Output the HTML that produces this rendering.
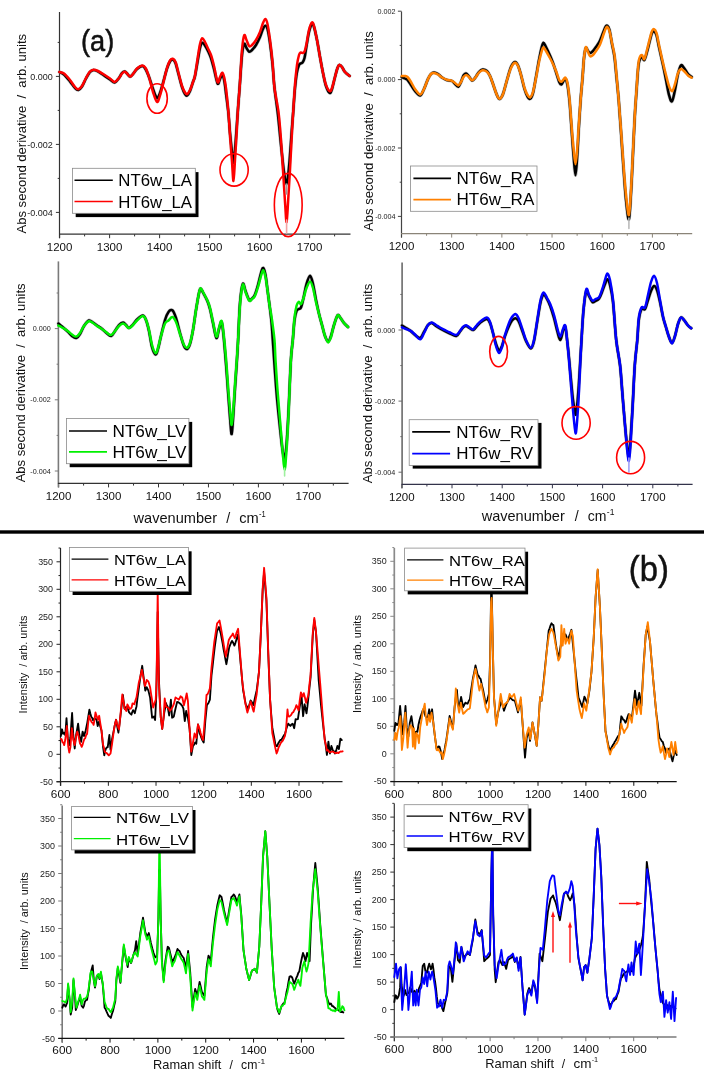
<!DOCTYPE html>
<html><head><meta charset="utf-8"><style>
html,body{margin:0;padding:0;background:#fff;width:709px;height:1074px;overflow:hidden;}
svg{display:block;font-family:"Liberation Sans", sans-serif;will-change:transform;}
</style></head><body>
<svg width="709" height="1074" viewBox="0 0 709 1074" font-family='"Liberation Sans", sans-serif'>
<rect width="709" height="1074" fill="#fff"/>
<line x1="59.6" y1="234.2" x2="59.6" y2="238.2" stroke="#333" stroke-width="1"/>
<text x="59.6" y="250.8" font-size="11.5" fill="#111" text-anchor="middle" textLength="25.58" lengthAdjust="spacingAndGlyphs">1200</text>
<line x1="84.6" y1="234.2" x2="84.6" y2="236.4" stroke="#333" stroke-width="1"/>
<line x1="109.6" y1="234.2" x2="109.6" y2="238.2" stroke="#333" stroke-width="1"/>
<text x="109.6" y="250.8" font-size="11.5" fill="#111" text-anchor="middle" textLength="25.58" lengthAdjust="spacingAndGlyphs">1300</text>
<line x1="134.6" y1="234.2" x2="134.6" y2="236.4" stroke="#333" stroke-width="1"/>
<line x1="159.6" y1="234.2" x2="159.6" y2="238.2" stroke="#333" stroke-width="1"/>
<text x="159.6" y="250.8" font-size="11.5" fill="#111" text-anchor="middle" textLength="25.58" lengthAdjust="spacingAndGlyphs">1400</text>
<line x1="184.6" y1="234.2" x2="184.6" y2="236.4" stroke="#333" stroke-width="1"/>
<line x1="209.6" y1="234.2" x2="209.6" y2="238.2" stroke="#333" stroke-width="1"/>
<text x="209.6" y="250.8" font-size="11.5" fill="#111" text-anchor="middle" textLength="25.58" lengthAdjust="spacingAndGlyphs">1500</text>
<line x1="234.6" y1="234.2" x2="234.6" y2="236.4" stroke="#333" stroke-width="1"/>
<line x1="259.6" y1="234.2" x2="259.6" y2="238.2" stroke="#333" stroke-width="1"/>
<text x="259.6" y="250.8" font-size="11.5" fill="#111" text-anchor="middle" textLength="25.58" lengthAdjust="spacingAndGlyphs">1600</text>
<line x1="284.6" y1="234.2" x2="284.6" y2="236.4" stroke="#333" stroke-width="1"/>
<line x1="309.6" y1="234.2" x2="309.6" y2="238.2" stroke="#333" stroke-width="1"/>
<text x="309.6" y="250.8" font-size="11.5" fill="#111" text-anchor="middle" textLength="25.58" lengthAdjust="spacingAndGlyphs">1700</text>
<line x1="334.6" y1="234.2" x2="334.6" y2="236.4" stroke="#333" stroke-width="1"/>
<line x1="57.7" y1="42.4" x2="59.5" y2="42.4" stroke="#333" stroke-width="1"/>
<line x1="55.9" y1="76.4" x2="59.5" y2="76.4" stroke="#333" stroke-width="1"/>
<text x="52.8" y="79.55" font-size="9.0" fill="#222" text-anchor="end" textLength="22.52" lengthAdjust="spacingAndGlyphs">0.000</text>
<line x1="57.7" y1="110.4" x2="59.5" y2="110.4" stroke="#333" stroke-width="1"/>
<line x1="55.9" y1="144.4" x2="59.5" y2="144.4" stroke="#333" stroke-width="1"/>
<text x="52.8" y="147.55" font-size="9.0" fill="#222" text-anchor="end" textLength="25.52" lengthAdjust="spacingAndGlyphs">-0.002</text>
<line x1="57.7" y1="178.4" x2="59.5" y2="178.4" stroke="#333" stroke-width="1"/>
<line x1="55.9" y1="212.4" x2="59.5" y2="212.4" stroke="#333" stroke-width="1"/>
<text x="52.8" y="215.55" font-size="9.0" fill="#222" text-anchor="end" textLength="25.52" lengthAdjust="spacingAndGlyphs">-0.004</text>
<line x1="59.5" y1="12" x2="59.5" y2="238.2" stroke="#333" stroke-width="1.2"/>
<line x1="59" y1="234.2" x2="350.5" y2="234.2" stroke="#333" stroke-width="1.2"/>
<text x="26.2" y="233.5" font-size="13" fill="#111" textLength="199.6" lengthAdjust="spacingAndGlyphs" transform="rotate(-90 26.2 233.5)">Abs second derivative&#160;&#160;/&#160;&#160;arb. units</text>
<line x1="401.5" y1="233.6" x2="401.5" y2="237.6" stroke="#8a8478" stroke-width="1"/>
<text x="401.5" y="250.2" font-size="11.5" fill="#111" text-anchor="middle" textLength="25.58" lengthAdjust="spacingAndGlyphs">1200</text>
<line x1="426.59" y1="233.6" x2="426.59" y2="235.8" stroke="#8a8478" stroke-width="1"/>
<line x1="451.68" y1="233.6" x2="451.68" y2="237.6" stroke="#8a8478" stroke-width="1"/>
<text x="451.68" y="250.2" font-size="11.5" fill="#111" text-anchor="middle" textLength="25.58" lengthAdjust="spacingAndGlyphs">1300</text>
<line x1="476.77" y1="233.6" x2="476.77" y2="235.8" stroke="#8a8478" stroke-width="1"/>
<line x1="501.86" y1="233.6" x2="501.86" y2="237.6" stroke="#8a8478" stroke-width="1"/>
<text x="501.86" y="250.2" font-size="11.5" fill="#111" text-anchor="middle" textLength="25.58" lengthAdjust="spacingAndGlyphs">1400</text>
<line x1="526.95" y1="233.6" x2="526.95" y2="235.8" stroke="#8a8478" stroke-width="1"/>
<line x1="552.04" y1="233.6" x2="552.04" y2="237.6" stroke="#8a8478" stroke-width="1"/>
<text x="552.04" y="250.2" font-size="11.5" fill="#111" text-anchor="middle" textLength="25.58" lengthAdjust="spacingAndGlyphs">1500</text>
<line x1="577.13" y1="233.6" x2="577.13" y2="235.8" stroke="#8a8478" stroke-width="1"/>
<line x1="602.22" y1="233.6" x2="602.22" y2="237.6" stroke="#8a8478" stroke-width="1"/>
<text x="602.22" y="250.2" font-size="11.5" fill="#111" text-anchor="middle" textLength="25.58" lengthAdjust="spacingAndGlyphs">1600</text>
<line x1="627.31" y1="233.6" x2="627.31" y2="235.8" stroke="#8a8478" stroke-width="1"/>
<line x1="652.4" y1="233.6" x2="652.4" y2="237.6" stroke="#8a8478" stroke-width="1"/>
<text x="652.4" y="250.2" font-size="11.5" fill="#111" text-anchor="middle" textLength="25.58" lengthAdjust="spacingAndGlyphs">1700</text>
<line x1="677.49" y1="233.6" x2="677.49" y2="235.8" stroke="#8a8478" stroke-width="1"/>
<line x1="397.9" y1="11.2" x2="401.5" y2="11.2" stroke="#444" stroke-width="1"/>
<text x="395.6" y="13.72" font-size="7.2" fill="#222" text-anchor="end" textLength="18.01" lengthAdjust="spacingAndGlyphs">0.002</text>
<line x1="399.7" y1="45.4" x2="401.5" y2="45.4" stroke="#444" stroke-width="1"/>
<line x1="397.9" y1="79.6" x2="401.5" y2="79.6" stroke="#444" stroke-width="1"/>
<text x="395.6" y="82.12" font-size="7.2" fill="#222" text-anchor="end" textLength="18.01" lengthAdjust="spacingAndGlyphs">0.000</text>
<line x1="399.7" y1="113.8" x2="401.5" y2="113.8" stroke="#444" stroke-width="1"/>
<line x1="397.9" y1="148" x2="401.5" y2="148" stroke="#444" stroke-width="1"/>
<text x="395.6" y="150.52" font-size="7.2" fill="#222" text-anchor="end" textLength="20.41" lengthAdjust="spacingAndGlyphs">-0.002</text>
<line x1="399.7" y1="182.2" x2="401.5" y2="182.2" stroke="#444" stroke-width="1"/>
<line x1="397.9" y1="216.4" x2="401.5" y2="216.4" stroke="#444" stroke-width="1"/>
<text x="395.6" y="218.92" font-size="7.2" fill="#222" text-anchor="end" textLength="20.41" lengthAdjust="spacingAndGlyphs">-0.004</text>
<line x1="401.5" y1="11.5" x2="401.5" y2="237.6" stroke="#444" stroke-width="1.2"/>
<line x1="401" y1="233.6" x2="692.2" y2="233.6" stroke="#8a8478" stroke-width="1.4"/>
<text x="372.5" y="231" font-size="13" fill="#111" textLength="199.7" lengthAdjust="spacingAndGlyphs" transform="rotate(-90 372.5 231)">Abs second derivative&#160;&#160;/&#160;&#160;arb. units</text>
<line x1="58.6" y1="483.4" x2="58.6" y2="487.4" stroke="#333" stroke-width="1"/>
<text x="58.6" y="499.8" font-size="11.5" fill="#111" text-anchor="middle" textLength="25.58" lengthAdjust="spacingAndGlyphs">1200</text>
<line x1="83.58" y1="483.4" x2="83.58" y2="485.6" stroke="#333" stroke-width="1"/>
<line x1="108.55" y1="483.4" x2="108.55" y2="487.4" stroke="#333" stroke-width="1"/>
<text x="108.55" y="499.8" font-size="11.5" fill="#111" text-anchor="middle" textLength="25.58" lengthAdjust="spacingAndGlyphs">1300</text>
<line x1="133.53" y1="483.4" x2="133.53" y2="485.6" stroke="#333" stroke-width="1"/>
<line x1="158.5" y1="483.4" x2="158.5" y2="487.4" stroke="#333" stroke-width="1"/>
<text x="158.5" y="499.8" font-size="11.5" fill="#111" text-anchor="middle" textLength="25.58" lengthAdjust="spacingAndGlyphs">1400</text>
<line x1="183.47" y1="483.4" x2="183.47" y2="485.6" stroke="#333" stroke-width="1"/>
<line x1="208.45" y1="483.4" x2="208.45" y2="487.4" stroke="#333" stroke-width="1"/>
<text x="208.45" y="499.8" font-size="11.5" fill="#111" text-anchor="middle" textLength="25.58" lengthAdjust="spacingAndGlyphs">1500</text>
<line x1="233.42" y1="483.4" x2="233.42" y2="485.6" stroke="#333" stroke-width="1"/>
<line x1="258.4" y1="483.4" x2="258.4" y2="487.4" stroke="#333" stroke-width="1"/>
<text x="258.4" y="499.8" font-size="11.5" fill="#111" text-anchor="middle" textLength="25.58" lengthAdjust="spacingAndGlyphs">1600</text>
<line x1="283.38" y1="483.4" x2="283.38" y2="485.6" stroke="#333" stroke-width="1"/>
<line x1="308.35" y1="483.4" x2="308.35" y2="487.4" stroke="#333" stroke-width="1"/>
<text x="308.35" y="499.8" font-size="11.5" fill="#111" text-anchor="middle" textLength="25.58" lengthAdjust="spacingAndGlyphs">1700</text>
<line x1="333.33" y1="483.4" x2="333.33" y2="485.6" stroke="#333" stroke-width="1"/>
<line x1="56.6" y1="293" x2="58.4" y2="293" stroke="#7a7a7a" stroke-width="1"/>
<line x1="54.8" y1="328.6" x2="58.4" y2="328.6" stroke="#7a7a7a" stroke-width="1"/>
<text x="50.8" y="331.12" font-size="7.2" fill="#222" text-anchor="end" textLength="18.01" lengthAdjust="spacingAndGlyphs">0.000</text>
<line x1="56.6" y1="364.2" x2="58.4" y2="364.2" stroke="#7a7a7a" stroke-width="1"/>
<line x1="54.8" y1="399.8" x2="58.4" y2="399.8" stroke="#7a7a7a" stroke-width="1"/>
<text x="50.8" y="402.32" font-size="7.2" fill="#222" text-anchor="end" textLength="20.41" lengthAdjust="spacingAndGlyphs">-0.002</text>
<line x1="56.6" y1="435.4" x2="58.4" y2="435.4" stroke="#7a7a7a" stroke-width="1"/>
<line x1="54.8" y1="471" x2="58.4" y2="471" stroke="#7a7a7a" stroke-width="1"/>
<text x="50.8" y="473.52" font-size="7.2" fill="#222" text-anchor="end" textLength="20.41" lengthAdjust="spacingAndGlyphs">-0.004</text>
<line x1="58.4" y1="261.4" x2="58.4" y2="487.4" stroke="#7a7a7a" stroke-width="1.6"/>
<line x1="57.9" y1="483.4" x2="348.6" y2="483.4" stroke="#333" stroke-width="1.2"/>
<text x="25" y="482.3" font-size="13" fill="#111" textLength="198.8" lengthAdjust="spacingAndGlyphs" transform="rotate(-90 25 482.3)">Abs second derivative&#160;&#160;/&#160;&#160;arb. units</text>
<line x1="401.8" y1="484.3" x2="401.8" y2="488.3" stroke="#33334a" stroke-width="1"/>
<text x="401.8" y="500.6" font-size="11.5" fill="#111" text-anchor="middle" textLength="25.58" lengthAdjust="spacingAndGlyphs">1200</text>
<line x1="426.9" y1="484.3" x2="426.9" y2="486.5" stroke="#33334a" stroke-width="1"/>
<line x1="452" y1="484.3" x2="452" y2="488.3" stroke="#33334a" stroke-width="1"/>
<text x="452" y="500.6" font-size="11.5" fill="#111" text-anchor="middle" textLength="25.58" lengthAdjust="spacingAndGlyphs">1300</text>
<line x1="477.1" y1="484.3" x2="477.1" y2="486.5" stroke="#33334a" stroke-width="1"/>
<line x1="502.2" y1="484.3" x2="502.2" y2="488.3" stroke="#33334a" stroke-width="1"/>
<text x="502.2" y="500.6" font-size="11.5" fill="#111" text-anchor="middle" textLength="25.58" lengthAdjust="spacingAndGlyphs">1400</text>
<line x1="527.3" y1="484.3" x2="527.3" y2="486.5" stroke="#33334a" stroke-width="1"/>
<line x1="552.4" y1="484.3" x2="552.4" y2="488.3" stroke="#33334a" stroke-width="1"/>
<text x="552.4" y="500.6" font-size="11.5" fill="#111" text-anchor="middle" textLength="25.58" lengthAdjust="spacingAndGlyphs">1500</text>
<line x1="577.5" y1="484.3" x2="577.5" y2="486.5" stroke="#33334a" stroke-width="1"/>
<line x1="602.6" y1="484.3" x2="602.6" y2="488.3" stroke="#33334a" stroke-width="1"/>
<text x="602.6" y="500.6" font-size="11.5" fill="#111" text-anchor="middle" textLength="25.58" lengthAdjust="spacingAndGlyphs">1600</text>
<line x1="627.7" y1="484.3" x2="627.7" y2="486.5" stroke="#33334a" stroke-width="1"/>
<line x1="652.8" y1="484.3" x2="652.8" y2="488.3" stroke="#33334a" stroke-width="1"/>
<text x="652.8" y="500.6" font-size="11.5" fill="#111" text-anchor="middle" textLength="25.58" lengthAdjust="spacingAndGlyphs">1700</text>
<line x1="677.9" y1="484.3" x2="677.9" y2="486.5" stroke="#33334a" stroke-width="1"/>
<line x1="400.3" y1="294.45" x2="402.1" y2="294.45" stroke="#6a6a6a" stroke-width="1"/>
<line x1="398.5" y1="330" x2="402.1" y2="330" stroke="#6a6a6a" stroke-width="1"/>
<text x="395.3" y="332.52" font-size="7.2" fill="#222" text-anchor="end" textLength="18.01" lengthAdjust="spacingAndGlyphs">0.000</text>
<line x1="400.3" y1="365.55" x2="402.1" y2="365.55" stroke="#6a6a6a" stroke-width="1"/>
<line x1="398.5" y1="401.1" x2="402.1" y2="401.1" stroke="#6a6a6a" stroke-width="1"/>
<text x="395.3" y="403.62" font-size="7.2" fill="#222" text-anchor="end" textLength="20.41" lengthAdjust="spacingAndGlyphs">-0.002</text>
<line x1="400.3" y1="436.65" x2="402.1" y2="436.65" stroke="#6a6a6a" stroke-width="1"/>
<line x1="398.5" y1="472.2" x2="402.1" y2="472.2" stroke="#6a6a6a" stroke-width="1"/>
<text x="395.3" y="474.72" font-size="7.2" fill="#222" text-anchor="end" textLength="20.41" lengthAdjust="spacingAndGlyphs">-0.004</text>
<line x1="402.1" y1="262.6" x2="402.1" y2="488.3" stroke="#6a6a6a" stroke-width="1.6"/>
<line x1="401.6" y1="484.3" x2="692.6" y2="484.3" stroke="#33334a" stroke-width="1.3"/>
<text x="371.8" y="483.2" font-size="13" fill="#111" textLength="199.4" lengthAdjust="spacingAndGlyphs" transform="rotate(-90 371.8 483.2)">Abs second derivative&#160;&#160;/&#160;&#160;arb. units</text>
<text x="133.5" y="523.3" font-size="14.3" fill="#111" textLength="83.5" lengthAdjust="spacingAndGlyphs">wavenumber</text>
<text x="226.2" y="523.3" font-size="14.3" fill="#111">/</text>
<text x="239.2" y="523.3" font-size="14.3" fill="#111" textLength="19.5" lengthAdjust="spacingAndGlyphs">cm</text>
<text x="259" y="517.1" font-size="9" fill="#111" textLength="6.7" lengthAdjust="spacingAndGlyphs">-1</text>
<text x="481.7" y="520.8" font-size="14.3" fill="#111" textLength="83.1" lengthAdjust="spacingAndGlyphs">wavenumber</text>
<text x="574.8" y="520.8" font-size="14.3" fill="#111">/</text>
<text x="587.8" y="520.8" font-size="14.3" fill="#111" textLength="18.7" lengthAdjust="spacingAndGlyphs">cm</text>
<text x="606.8" y="514.6" font-size="9" fill="#111" textLength="7.6" lengthAdjust="spacingAndGlyphs">-1</text>
<path d="M59.5,72 C60.25,72.42 62.25,72.92 64,74.5 C65.75,76.08 68.17,79.25 70,81.5 C71.83,83.75 73.62,86.58 75,88 C76.38,89.42 77.13,90.25 78.3,90 C79.47,89.75 80.72,88.42 82,86.5 C83.28,84.58 84.67,80.92 86,78.5 C87.33,76.08 88.72,73.42 90,72 C91.28,70.58 92.37,70.08 93.7,70 C95.03,69.92 96.28,70.58 98,71.5 C99.72,72.42 102,74.17 104,75.5 C106,76.83 108.22,78.33 110,79.5 C111.78,80.67 113.2,82.75 114.7,82.5 C116.2,82.25 117.78,79.58 119,78 C120.22,76.42 121.03,74.08 122,73 C122.97,71.92 123.97,71.42 124.8,71.5 C125.63,71.58 126.12,72.65 127,73.5 C127.88,74.35 129.1,76.52 130.1,76.6 C131.1,76.68 131.85,75.27 133,74 C134.15,72.73 135.47,70.33 137,69 C138.53,67.67 140.78,66 142.2,66 C143.62,66 144.37,67.17 145.5,69 C146.63,70.83 147.75,73.67 149,77 C150.25,80.33 151.67,85.5 153,89 C154.33,92.5 155.83,97.33 157,98 C158.17,98.67 159,95.5 160,93 C161,90.5 161.83,87.08 163,83 C164.17,78.92 165.83,72.08 167,68.5 C168.17,64.92 169.03,63 170,61.5 C170.97,60 171.88,59.25 172.8,59.5 C173.72,59.75 174.55,60.58 175.5,63 C176.45,65.42 177.42,70 178.5,74 C179.58,78 180.92,83.67 182,87 C183.08,90.33 184.13,92.58 185,94 C185.87,95.42 186.37,96 187.2,95.5 C188.03,95 189.03,93.25 190,91 C190.97,88.75 192.17,84.5 193,82 C193.83,79.5 194.17,79.83 195,76 C195.83,72.17 197.17,63.67 198,59 C198.83,54.33 199.3,50.72 200,48 C200.7,45.28 201.37,43.12 202.2,42.7 C203.03,42.28 203.95,43.95 205,45.5 C206.05,47.05 207.5,49.92 208.5,52 C209.5,54.08 210.08,55.17 211,58 C211.92,60.83 212.9,64.75 214,69 C215.1,73.25 216.6,81.83 217.6,83.5 C218.6,85.17 219.18,80.42 220,79 C220.82,77.58 221.75,74.5 222.5,75 C223.25,75.5 223.88,78.67 224.5,82 C225.12,85.33 225.55,89.83 226.2,95 C226.85,100.17 227.77,106.67 228.4,113 C229.03,119.33 229.4,126.5 230,133 C230.6,139.5 231.42,147.03 232,152 C232.58,156.97 233,163.13 233.5,162.8 C234,162.47 234.5,155.47 235,150 C235.5,144.53 236.02,136.67 236.5,130 C236.98,123.33 237.35,117.5 237.9,110 C238.45,102.5 239.12,94.17 239.8,85 C240.48,75.83 241.27,61.85 242,55 C242.73,48.15 243.45,45.07 244.2,43.9 C244.95,42.73 245.67,46.7 246.5,48 C247.33,49.3 248.28,51.37 249.2,51.7 C250.12,52.03 250.87,51.12 252,50 C253.13,48.88 254.67,47.17 256,45 C257.33,42.83 258.83,39.67 260,37 C261.17,34.33 262.1,30.87 263,29 C263.9,27.13 264.65,25.8 265.4,25.8 C266.15,25.8 266.73,26.13 267.5,29 C268.27,31.87 269.17,37.17 270,43 C270.83,48.83 271.75,56.5 272.5,64 C273.25,71.5 273.58,79.5 274.5,88 C275.42,96.5 276.92,105.5 278,115 C279.08,124.5 280,135.5 281,145 C282,154.5 283.08,165.5 284,172 C284.92,178.5 285.75,184 286.5,184 C287.25,184 287.92,176.83 288.5,172 C289.08,167.17 289.45,162 290,155 C290.55,148 291.27,137.17 291.8,130 C292.33,122.83 292.67,119 293.2,112 C293.73,105 294.37,94.67 295,88 C295.63,81.33 296.33,75.83 297,72 C297.67,68.17 298.42,66.42 299,65 C299.58,63.58 299.92,63.92 300.5,63.5 C301.08,63.08 301.83,63.42 302.5,62.5 C303.17,61.58 303.83,60.75 304.5,58 C305.17,55.25 305.75,50.33 306.5,46 C307.25,41.67 308.1,35.67 309,32 C309.9,28.33 311.07,24.83 311.9,24 C312.73,23.17 313.15,24.33 314,27 C314.85,29.67 316,35 317,40 C318,45 319,51.5 320,57 C321,62.5 322,68.17 323,73 C324,77.83 324.88,82.67 326,86 C327.12,89.33 328.7,92.5 329.7,93 C330.7,93.5 331.12,91.67 332,89 C332.88,86.33 334.08,80.5 335,77 C335.92,73.5 336.77,70 337.5,68 C338.23,66 338.65,65.17 339.4,65 C340.15,64.83 341.07,65.83 342,67 C342.93,68.17 343.73,70.52 345,72 C346.27,73.48 348.83,75.25 349.6,75.9" fill="none" stroke="#999" stroke-width="3.6" stroke-linejoin="round" stroke-linecap="round" stroke-opacity="0.6"/>
<path d="M59.5,72 C60.25,72.42 62.25,72.92 64,74.5 C65.75,76.08 68.17,79.25 70,81.5 C71.83,83.75 73.62,86.58 75,88 C76.38,89.42 77.13,90.25 78.3,90 C79.47,89.75 80.72,88.42 82,86.5 C83.28,84.58 84.67,80.92 86,78.5 C87.33,76.08 88.72,73.42 90,72 C91.28,70.58 92.37,70.08 93.7,70 C95.03,69.92 96.28,70.58 98,71.5 C99.72,72.42 102,74.17 104,75.5 C106,76.83 108.22,78.33 110,79.5 C111.78,80.67 113.2,82.75 114.7,82.5 C116.2,82.25 117.78,79.58 119,78 C120.22,76.42 121.03,74.08 122,73 C122.97,71.92 123.97,71.42 124.8,71.5 C125.63,71.58 126.12,72.65 127,73.5 C127.88,74.35 129.1,76.52 130.1,76.6 C131.1,76.68 131.85,75.27 133,74 C134.15,72.73 135.47,70.33 137,69 C138.53,67.67 140.78,66 142.2,66 C143.62,66 144.37,67.17 145.5,69 C146.63,70.83 147.75,73.67 149,77 C150.25,80.33 151.67,85.5 153,89 C154.33,92.5 155.83,97.33 157,98 C158.17,98.67 159,95.5 160,93 C161,90.5 161.83,87.08 163,83 C164.17,78.92 165.83,72.08 167,68.5 C168.17,64.92 169.03,63 170,61.5 C170.97,60 171.88,59.25 172.8,59.5 C173.72,59.75 174.55,60.58 175.5,63 C176.45,65.42 177.42,70 178.5,74 C179.58,78 180.92,83.67 182,87 C183.08,90.33 184.13,92.58 185,94 C185.87,95.42 186.37,96 187.2,95.5 C188.03,95 189.03,93.25 190,91 C190.97,88.75 192.17,84.5 193,82 C193.83,79.5 194.17,79.83 195,76 C195.83,72.17 197.17,63.67 198,59 C198.83,54.33 199.3,50.72 200,48 C200.7,45.28 201.37,43.12 202.2,42.7 C203.03,42.28 203.95,43.95 205,45.5 C206.05,47.05 207.5,49.92 208.5,52 C209.5,54.08 210.08,55.17 211,58 C211.92,60.83 212.9,64.75 214,69 C215.1,73.25 216.6,81.83 217.6,83.5 C218.6,85.17 219.18,80.42 220,79 C220.82,77.58 221.75,74.5 222.5,75 C223.25,75.5 223.88,78.67 224.5,82 C225.12,85.33 225.55,89.83 226.2,95 C226.85,100.17 227.77,106.67 228.4,113 C229.03,119.33 229.4,126.5 230,133 C230.6,139.5 231.42,147.03 232,152 C232.58,156.97 233,163.13 233.5,162.8 C234,162.47 234.5,155.47 235,150 C235.5,144.53 236.02,136.67 236.5,130 C236.98,123.33 237.35,117.5 237.9,110 C238.45,102.5 239.12,94.17 239.8,85 C240.48,75.83 241.27,61.85 242,55 C242.73,48.15 243.45,45.07 244.2,43.9 C244.95,42.73 245.67,46.7 246.5,48 C247.33,49.3 248.28,51.37 249.2,51.7 C250.12,52.03 250.87,51.12 252,50 C253.13,48.88 254.67,47.17 256,45 C257.33,42.83 258.83,39.67 260,37 C261.17,34.33 262.1,30.87 263,29 C263.9,27.13 264.65,25.8 265.4,25.8 C266.15,25.8 266.73,26.13 267.5,29 C268.27,31.87 269.17,37.17 270,43 C270.83,48.83 271.75,56.5 272.5,64 C273.25,71.5 273.58,79.5 274.5,88 C275.42,96.5 276.92,105.5 278,115 C279.08,124.5 280,135.5 281,145 C282,154.5 283.08,165.5 284,172 C284.92,178.5 285.75,184 286.5,184 C287.25,184 287.92,176.83 288.5,172 C289.08,167.17 289.45,162 290,155 C290.55,148 291.27,137.17 291.8,130 C292.33,122.83 292.67,119 293.2,112 C293.73,105 294.37,94.67 295,88 C295.63,81.33 296.33,75.83 297,72 C297.67,68.17 298.42,66.42 299,65 C299.58,63.58 299.92,63.92 300.5,63.5 C301.08,63.08 301.83,63.42 302.5,62.5 C303.17,61.58 303.83,60.75 304.5,58 C305.17,55.25 305.75,50.33 306.5,46 C307.25,41.67 308.1,35.67 309,32 C309.9,28.33 311.07,24.83 311.9,24 C312.73,23.17 313.15,24.33 314,27 C314.85,29.67 316,35 317,40 C318,45 319,51.5 320,57 C321,62.5 322,68.17 323,73 C324,77.83 324.88,82.67 326,86 C327.12,89.33 328.7,92.5 329.7,93 C330.7,93.5 331.12,91.67 332,89 C332.88,86.33 334.08,80.5 335,77 C335.92,73.5 336.77,70 337.5,68 C338.23,66 338.65,65.17 339.4,65 C340.15,64.83 341.07,65.83 342,67 C342.93,68.17 343.73,70.52 345,72 C346.27,73.48 348.83,75.25 349.6,75.9" fill="none" stroke="#000" stroke-width="2.5" stroke-linejoin="round" stroke-linecap="round"/>
<path d="M59.5,72 C60.25,72.25 62.25,72.17 64,73.5 C65.75,74.83 68.17,77.75 70,80 C71.83,82.25 73.62,85.45 75,87 C76.38,88.55 77.13,89.47 78.3,89.3 C79.47,89.13 80.72,87.88 82,86 C83.28,84.12 84.67,80.42 86,78 C87.33,75.58 88.72,72.88 90,71.5 C91.28,70.12 92.37,69.78 93.7,69.7 C95.03,69.62 96.28,70.2 98,71 C99.72,71.8 102,73.25 104,74.5 C106,75.75 108.22,77.27 110,78.5 C111.78,79.73 113.2,81.98 114.7,81.9 C116.2,81.82 117.78,79.4 119,78 C120.22,76.6 121.03,74.53 122,73.5 C122.97,72.47 123.97,71.8 124.8,71.8 C125.63,71.8 126.12,72.7 127,73.5 C127.88,74.3 129.1,76.52 130.1,76.6 C131.1,76.68 131.85,75.35 133,74 C134.15,72.65 135.47,69.93 137,68.5 C138.53,67.07 140.78,65.48 142.2,65.4 C143.62,65.32 144.37,66.07 145.5,68 C146.63,69.93 147.75,73 149,77 C150.25,81 151.67,87.83 153,92 C154.33,96.17 155.83,101.42 157,102 C158.17,102.58 159,98.5 160,95.5 C161,92.5 161.83,88.58 163,84 C164.17,79.42 165.83,71.92 167,68 C168.17,64.08 169.03,62.05 170,60.5 C170.97,58.95 171.88,58.45 172.8,58.7 C173.72,58.95 174.55,59.62 175.5,62 C176.45,64.38 177.42,69 178.5,73 C179.58,77 180.92,82.75 182,86 C183.08,89.25 184.13,91.13 185,92.5 C185.87,93.87 186.37,94.62 187.2,94.2 C188.03,93.78 189.03,92.03 190,90 C190.97,87.97 192.17,84.43 193,82 C193.83,79.57 194.17,79.73 195,75.4 C195.83,71.07 197.17,61.23 198,56 C198.83,50.77 199.3,46.97 200,44 C200.7,41.03 201.37,38.53 202.2,38.2 C203.03,37.87 203.95,40.12 205,42 C206.05,43.88 207.5,47.33 208.5,49.5 C209.5,51.67 210.08,52.25 211,55 C211.92,57.75 212.9,61.47 214,66 C215.1,70.53 216.6,80.37 217.6,82.2 C218.6,84.03 219.18,78.58 220,77 C220.82,75.42 221.75,72.37 222.5,72.7 C223.25,73.03 223.88,76.12 224.5,79 C225.12,81.88 225.55,84.5 226.2,90 C226.85,95.5 227.77,104.5 228.4,112 C229.03,119.5 229.4,126.67 230,135 C230.6,143.33 231.42,154.33 232,162 C232.58,169.67 233,181.33 233.5,181 C234,180.67 234.5,167.67 235,160 C235.5,152.33 236.02,143.33 236.5,135 C236.98,126.67 237.35,118.33 237.9,110 C238.45,101.67 239.12,95 239.8,85 C240.48,75 241.27,58.28 242,50 C242.73,41.72 243.45,36.97 244.2,35.3 C244.95,33.63 245.67,38.2 246.5,40 C247.33,41.8 248.28,45.27 249.2,46.1 C250.12,46.93 250.87,46.02 252,45 C253.13,43.98 254.67,42.17 256,40 C257.33,37.83 258.83,34.83 260,32 C261.17,29.17 262.1,25.17 263,23 C263.9,20.83 264.65,18.83 265.4,19 C266.15,19.17 266.73,20.5 267.5,24 C268.27,27.5 269.17,33.67 270,40 C270.83,46.33 271.75,54 272.5,62 C273.25,70 273.5,79.67 274.5,88 C275.5,96.33 277.42,103.33 278.5,112 C279.58,120.67 280.2,129.5 281,140 C281.8,150.5 282.6,164.17 283.3,175 C284,185.83 284.65,197.17 285.2,205 C285.75,212.83 286.1,222.83 286.6,222 C287.1,221.17 287.63,208.67 288.2,200 C288.77,191.33 289.4,180.83 290,170 C290.6,159.17 291.27,144.67 291.8,135 C292.33,125.33 292.67,120.33 293.2,112 C293.73,103.67 294.37,92.83 295,85 C295.63,77.17 296.33,70 297,65 C297.67,60 298.42,57.08 299,55 C299.58,52.92 299.92,52.83 300.5,52.5 C301.08,52.17 301.83,53.17 302.5,53 C303.17,52.83 303.83,53 304.5,51.5 C305.17,50 305.75,47.58 306.5,44 C307.25,40.42 308.1,33.6 309,30 C309.9,26.4 311.07,23.07 311.9,22.4 C312.73,21.73 313.15,23.07 314,26 C314.85,28.93 316,34.83 317,40 C318,45.17 319,51.5 320,57 C321,62.5 322,68.33 323,73 C324,77.67 324.88,81.97 326,85 C327.12,88.03 328.7,90.7 329.7,91.2 C330.7,91.7 331.12,90.37 332,88 C332.88,85.63 334.08,80.33 335,77 C335.92,73.67 336.77,70.03 337.5,68 C338.23,65.97 338.65,64.97 339.4,64.8 C340.15,64.63 341.07,65.8 342,67 C342.93,68.2 343.73,70.52 345,72 C346.27,73.48 348.83,75.25 349.6,75.9" fill="none" stroke="#ff0000" stroke-width="2.5" stroke-linejoin="round" stroke-linecap="round"/>
<path d="M286.5,184 L286.5,194" fill="none" stroke="#9a9a9a" stroke-width="1.6" stroke-linecap="round"/>
<path d="M286.6,220 L286.6,233" fill="none" stroke="#f3a3a4" stroke-width="1.6" stroke-linecap="round"/>
<path d="M401.8,77 C402.33,77.25 404.05,78 405,78.5 C405.95,79 406.5,78.92 407.5,80 C408.5,81.08 409.75,83.17 411,85 C412.25,86.83 413.47,89.25 415,91 C416.53,92.75 418.7,95.83 420.2,95.5 C421.7,95.17 422.7,91.75 424,89 C425.3,86.25 426.83,81.5 428,79 C429.17,76.5 430,75.08 431,74 C432,72.92 432.83,72.5 434,72.5 C435.17,72.5 436.67,73.17 438,74 C439.33,74.83 440.55,76.5 442,77.5 C443.45,78.5 445.03,79.42 446.7,80 C448.37,80.58 450.62,80.33 452,81 C453.38,81.67 453.95,83.05 455,84 C456.05,84.95 457.3,87.03 458.3,86.7 C459.3,86.37 460.13,83.87 461,82 C461.87,80.13 462.65,76.93 463.5,75.5 C464.35,74.07 465.18,73.23 466.1,73.4 C467.02,73.57 468.02,75.32 469,76.5 C469.98,77.68 471,80.25 472,80.5 C473,80.75 473.83,79.42 475,78 C476.17,76.58 477.73,73.42 479,72 C480.27,70.58 481.28,69.67 482.6,69.5 C483.92,69.33 485.67,69.92 486.9,71 C488.13,72.08 488.98,73.83 490,76 C491.02,78.17 491.92,81 493,84 C494.08,87 495.42,91.5 496.5,94 C497.58,96.5 498.42,99 499.5,99 C500.58,99 501.75,97.17 503,94 C504.25,90.83 505.67,84.5 507,80 C508.33,75.5 509.67,70 511,67 C512.33,64 513.83,62.25 515,62 C516.17,61.75 517,63.33 518,65.5 C519,67.67 519.92,71.08 521,75 C522.08,78.92 523.42,85.42 524.5,89 C525.58,92.58 526.55,94.87 527.5,96.5 C528.45,98.13 529.28,99.38 530.2,98.8 C531.12,98.22 532.03,96.63 533,93 C533.97,89.37 535,82.5 536,77 C537,71.5 538.08,64.83 539,60 C539.92,55.17 540.77,50.88 541.5,48 C542.23,45.12 542.65,42.87 543.4,42.7 C544.15,42.53 544.87,44.78 546,47 C547.13,49.22 549.03,53.33 550.2,56 C551.37,58.67 552.03,60.33 553,63 C553.97,65.67 554.97,68.83 556,72 C557.03,75.17 558.3,79.92 559.2,82 C560.1,84.08 560.68,84.67 561.4,84.5 C562.12,84.33 562.82,81.92 563.5,81 C564.18,80.08 564.83,78.33 565.5,79 C566.17,79.67 566.82,81.17 567.5,85 C568.18,88.83 568.93,94.83 569.6,102 C570.27,109.17 570.85,119.17 571.5,128 C572.15,136.83 572.83,147.12 573.5,155 C574.17,162.88 574.87,175.3 575.5,175.3 C576.13,175.3 576.75,162.88 577.3,155 C577.85,147.12 578.25,137.17 578.8,128 C579.35,118.83 579.98,108.33 580.6,100 C581.22,91.67 581.93,85 582.5,78 C583.07,71 583.45,63 584,58 C584.55,53 585.13,49.17 585.8,48 C586.47,46.83 587.28,50.18 588,51 C588.72,51.82 589.27,52.9 590.1,52.9 C590.93,52.9 592.02,51.98 593,51 C593.98,50.02 594.87,48.67 596,47 C597.13,45.33 598.63,43.33 599.8,41 C600.97,38.67 602.05,35.33 603,33 C603.95,30.67 604.78,28.2 605.5,27 C606.22,25.8 606.63,25.3 607.3,25.8 C607.97,26.3 608.72,26.97 609.5,30 C610.28,33.03 611.17,39.5 612,44 C612.83,48.5 613.75,51.5 614.5,57 C615.25,62.5 615.8,69.83 616.5,77 C617.2,84.17 617.95,90.83 618.7,100 C619.45,109.17 620.2,120.67 621,132 C621.8,143.33 622.67,156.67 623.5,168 C624.33,179.33 625.1,191.45 626,200 C626.9,208.55 628.07,220.47 628.9,219.3 C629.73,218.13 630.35,203.38 631,193 C631.65,182.62 632.17,169.83 632.8,157 C633.43,144.17 634.18,127 634.8,116 C635.42,105 635.97,98.67 636.5,91 C637.03,83.33 637.53,75 638,70 C638.47,65 638.63,63.17 639.3,61 C639.97,58.83 641.17,57.17 642,57 C642.83,56.83 643.47,60.83 644.3,60 C645.13,59.17 646.05,55.33 647,52 C647.95,48.67 649.17,43.17 650,40 C650.83,36.83 651.33,34.43 652,33 C652.67,31.57 653.25,31.07 654,31.4 C654.75,31.73 655.67,32.4 656.5,35 C657.33,37.6 657.92,42 659,47 C660.08,52 661.83,59.5 663,65 C664.17,70.5 665,75 666,80 C667,85 668,91.43 669,95 C670,98.57 671,102.23 672,101.4 C673,100.57 674,94.57 675,90 C676,85.43 677,78.12 678,74 C679,69.88 680,66.3 681,65.3 C682,64.3 682.83,66.55 684,68 C685.17,69.45 686.72,72.5 688,74 C689.28,75.5 691.08,76.5 691.7,77" fill="none" stroke="#999" stroke-width="3.6" stroke-linejoin="round" stroke-linecap="round" stroke-opacity="0.6"/>
<path d="M401.8,77 C402.33,77.25 404.05,78 405,78.5 C405.95,79 406.5,78.92 407.5,80 C408.5,81.08 409.75,83.17 411,85 C412.25,86.83 413.47,89.25 415,91 C416.53,92.75 418.7,95.83 420.2,95.5 C421.7,95.17 422.7,91.75 424,89 C425.3,86.25 426.83,81.5 428,79 C429.17,76.5 430,75.08 431,74 C432,72.92 432.83,72.5 434,72.5 C435.17,72.5 436.67,73.17 438,74 C439.33,74.83 440.55,76.5 442,77.5 C443.45,78.5 445.03,79.42 446.7,80 C448.37,80.58 450.62,80.33 452,81 C453.38,81.67 453.95,83.05 455,84 C456.05,84.95 457.3,87.03 458.3,86.7 C459.3,86.37 460.13,83.87 461,82 C461.87,80.13 462.65,76.93 463.5,75.5 C464.35,74.07 465.18,73.23 466.1,73.4 C467.02,73.57 468.02,75.32 469,76.5 C469.98,77.68 471,80.25 472,80.5 C473,80.75 473.83,79.42 475,78 C476.17,76.58 477.73,73.42 479,72 C480.27,70.58 481.28,69.67 482.6,69.5 C483.92,69.33 485.67,69.92 486.9,71 C488.13,72.08 488.98,73.83 490,76 C491.02,78.17 491.92,81 493,84 C494.08,87 495.42,91.5 496.5,94 C497.58,96.5 498.42,99 499.5,99 C500.58,99 501.75,97.17 503,94 C504.25,90.83 505.67,84.5 507,80 C508.33,75.5 509.67,70 511,67 C512.33,64 513.83,62.25 515,62 C516.17,61.75 517,63.33 518,65.5 C519,67.67 519.92,71.08 521,75 C522.08,78.92 523.42,85.42 524.5,89 C525.58,92.58 526.55,94.87 527.5,96.5 C528.45,98.13 529.28,99.38 530.2,98.8 C531.12,98.22 532.03,96.63 533,93 C533.97,89.37 535,82.5 536,77 C537,71.5 538.08,64.83 539,60 C539.92,55.17 540.77,50.88 541.5,48 C542.23,45.12 542.65,42.87 543.4,42.7 C544.15,42.53 544.87,44.78 546,47 C547.13,49.22 549.03,53.33 550.2,56 C551.37,58.67 552.03,60.33 553,63 C553.97,65.67 554.97,68.83 556,72 C557.03,75.17 558.3,79.92 559.2,82 C560.1,84.08 560.68,84.67 561.4,84.5 C562.12,84.33 562.82,81.92 563.5,81 C564.18,80.08 564.83,78.33 565.5,79 C566.17,79.67 566.82,81.17 567.5,85 C568.18,88.83 568.93,94.83 569.6,102 C570.27,109.17 570.85,119.17 571.5,128 C572.15,136.83 572.83,147.12 573.5,155 C574.17,162.88 574.87,175.3 575.5,175.3 C576.13,175.3 576.75,162.88 577.3,155 C577.85,147.12 578.25,137.17 578.8,128 C579.35,118.83 579.98,108.33 580.6,100 C581.22,91.67 581.93,85 582.5,78 C583.07,71 583.45,63 584,58 C584.55,53 585.13,49.17 585.8,48 C586.47,46.83 587.28,50.18 588,51 C588.72,51.82 589.27,52.9 590.1,52.9 C590.93,52.9 592.02,51.98 593,51 C593.98,50.02 594.87,48.67 596,47 C597.13,45.33 598.63,43.33 599.8,41 C600.97,38.67 602.05,35.33 603,33 C603.95,30.67 604.78,28.2 605.5,27 C606.22,25.8 606.63,25.3 607.3,25.8 C607.97,26.3 608.72,26.97 609.5,30 C610.28,33.03 611.17,39.5 612,44 C612.83,48.5 613.75,51.5 614.5,57 C615.25,62.5 615.8,69.83 616.5,77 C617.2,84.17 617.95,90.83 618.7,100 C619.45,109.17 620.2,120.67 621,132 C621.8,143.33 622.67,156.67 623.5,168 C624.33,179.33 625.1,191.45 626,200 C626.9,208.55 628.07,220.47 628.9,219.3 C629.73,218.13 630.35,203.38 631,193 C631.65,182.62 632.17,169.83 632.8,157 C633.43,144.17 634.18,127 634.8,116 C635.42,105 635.97,98.67 636.5,91 C637.03,83.33 637.53,75 638,70 C638.47,65 638.63,63.17 639.3,61 C639.97,58.83 641.17,57.17 642,57 C642.83,56.83 643.47,60.83 644.3,60 C645.13,59.17 646.05,55.33 647,52 C647.95,48.67 649.17,43.17 650,40 C650.83,36.83 651.33,34.43 652,33 C652.67,31.57 653.25,31.07 654,31.4 C654.75,31.73 655.67,32.4 656.5,35 C657.33,37.6 657.92,42 659,47 C660.08,52 661.83,59.5 663,65 C664.17,70.5 665,75 666,80 C667,85 668,91.43 669,95 C670,98.57 671,102.23 672,101.4 C673,100.57 674,94.57 675,90 C676,85.43 677,78.12 678,74 C679,69.88 680,66.3 681,65.3 C682,64.3 682.83,66.55 684,68 C685.17,69.45 686.72,72.5 688,74 C689.28,75.5 691.08,76.5 691.7,77" fill="none" stroke="#000" stroke-width="2.5" stroke-linejoin="round" stroke-linecap="round"/>
<path d="M401.8,76.1 C402.33,76.08 404.05,75.85 405,76 C405.95,76.15 406.5,76 407.5,77 C408.5,78 409.75,80 411,82 C412.25,84 413.47,86.92 415,89 C416.53,91.08 418.7,94.5 420.2,94.5 C421.7,94.5 422.7,91.58 424,89 C425.3,86.42 426.83,81.5 428,79 C429.17,76.5 430,75 431,74 C432,73 432.83,72.92 434,73 C435.17,73.08 436.67,73.75 438,74.5 C439.33,75.25 440.55,76.63 442,77.5 C443.45,78.37 445.03,79.15 446.7,79.7 C448.37,80.25 450.62,80.25 452,80.8 C453.38,81.35 453.95,82.23 455,83 C456.05,83.77 457.3,85.57 458.3,85.4 C459.3,85.23 460.13,83.4 461,82 C461.87,80.6 462.65,78.17 463.5,77 C464.35,75.83 465.18,75 466.1,75 C467.02,75 468.02,76.12 469,77 C469.98,77.88 471,80.13 472,80.3 C473,80.47 473.83,79.3 475,78 C476.17,76.7 477.73,73.8 479,72.5 C480.27,71.2 481.28,70.33 482.6,70.2 C483.92,70.07 485.67,70.73 486.9,71.7 C488.13,72.67 488.98,73.95 490,76 C491.02,78.05 491.92,81 493,84 C494.08,87 495.42,91.53 496.5,94 C497.58,96.47 498.42,98.8 499.5,98.8 C500.58,98.8 501.75,97.13 503,94 C504.25,90.87 505.67,84.33 507,80 C508.33,75.67 509.67,70.87 511,68 C512.33,65.13 513.83,63.13 515,62.8 C516.17,62.47 517,63.97 518,66 C519,68.03 519.92,71.33 521,75 C522.08,78.67 523.42,84.67 524.5,88 C525.58,91.33 526.55,93.45 527.5,95 C528.45,96.55 529.28,97.8 530.2,97.3 C531.12,96.8 532.03,95.22 533,92 C533.97,88.78 535,83 536,78 C537,73 538.08,66.33 539,62 C539.92,57.67 540.77,54.47 541.5,52 C542.23,49.53 542.65,47.37 543.4,47.2 C544.15,47.03 544.87,49.12 546,51 C547.13,52.88 549.03,56.33 550.2,58.5 C551.37,60.67 552.03,61.92 553,64 C553.97,66.08 554.97,68.33 556,71 C557.03,73.67 558.3,78.2 559.2,80 C560.1,81.8 560.68,81.88 561.4,81.8 C562.12,81.72 562.82,80.18 563.5,79.5 C564.18,78.82 564.83,77.12 565.5,77.7 C566.17,78.28 566.82,79.28 567.5,83 C568.18,86.72 568.93,93 569.6,100 C570.27,107 570.85,117 571.5,125 C572.15,133 572.83,141.45 573.5,148 C574.17,154.55 574.87,164.3 575.5,164.3 C576.13,164.3 576.75,154.55 577.3,148 C577.85,141.45 578.25,133 578.8,125 C579.35,117 579.98,107.83 580.6,100 C581.22,92.17 581.93,85 582.5,78 C583.07,71 583.45,63.13 584,58 C584.55,52.87 585.13,48.2 585.8,47.2 C586.47,46.2 587.28,50.48 588,52 C588.72,53.52 589.27,55.8 590.1,56.3 C590.93,56.8 592.02,55.88 593,55 C593.98,54.12 594.87,52.67 596,51 C597.13,49.33 598.63,47.5 599.8,45 C600.97,42.5 602.05,38.67 603,36 C603.95,33.33 604.78,30.52 605.5,29 C606.22,27.48 606.63,26.57 607.3,26.9 C607.97,27.23 608.72,28.32 609.5,31 C610.28,33.68 611.17,38.98 612,43 C612.83,47.02 613.75,49.77 614.5,55.1 C615.25,60.43 615.8,67.52 616.5,75 C617.2,82.48 617.95,90.83 618.7,100 C619.45,109.17 620.2,119.17 621,130 C621.8,140.83 622.67,154.17 623.5,165 C624.33,175.83 625.1,186.65 626,195 C626.9,203.35 628.07,215.93 628.9,215.1 C629.73,214.27 630.35,200.02 631,190 C631.65,179.98 632.17,167.5 632.8,155 C633.43,142.5 634.18,125.83 634.8,115 C635.42,104.17 635.97,97.83 636.5,90 C637.03,82.17 637.53,73.25 638,68 C638.47,62.75 638.63,60.65 639.3,58.5 C639.97,56.35 641.17,54.98 642,55.1 C642.83,55.22 643.47,60.05 644.3,59.2 C645.13,58.35 646.05,53.53 647,50 C647.95,46.47 649.17,41.17 650,38 C650.83,34.83 651.33,32.47 652,31 C652.67,29.53 653.25,28.87 654,29.2 C654.75,29.53 655.67,30.37 656.5,33 C657.33,35.63 657.92,40 659,45 C660.08,50 661.83,58 663,63 C664.17,68 665,71.17 666,75 C667,78.83 668,83.3 669,86 C670,88.7 671,91.53 672,91.2 C673,90.87 674,87.03 675,84 C676,80.97 677,75.5 678,73 C679,70.5 680,69.33 681,69 C682,68.67 682.83,69.92 684,71 C685.17,72.08 686.72,74.38 688,75.5 C689.28,76.62 691.08,77.33 691.7,77.7" fill="none" stroke="#ff8000" stroke-width="2.5" stroke-linejoin="round" stroke-linecap="round"/>
<path d="M628.9,218 L628.9,228.5" fill="none" stroke="#bbbbbb" stroke-width="1.6" stroke-linecap="round"/>
<path d="M58.4,323.5 C59,324 60.45,325.17 62,326.5 C63.55,327.83 66.03,329.92 67.7,331.5 C69.37,333.08 70.58,334.92 72,336 C73.42,337.08 74.87,338.33 76.2,338 C77.53,337.67 78.7,336 80,334 C81.3,332 82.53,328.25 84,326 C85.47,323.75 87.3,321.08 88.8,320.5 C90.3,319.92 91.63,321.67 93,322.5 C94.37,323.33 95.58,324.5 97,325.5 C98.42,326.5 100,327.33 101.5,328.5 C103,329.67 104.4,331.25 106,332.5 C107.6,333.75 109.6,336.25 111.1,336 C112.6,335.75 113.68,332.83 115,331 C116.32,329.17 117.65,326.42 119,325 C120.35,323.58 121.93,322.5 123.1,322.5 C124.27,322.5 125.02,324.08 126,325 C126.98,325.92 127.83,328.08 129,328 C130.17,327.92 131.67,325.92 133,324.5 C134.33,323.08 135.37,321 137,319.5 C138.63,318 141.3,315.42 142.8,315.5 C144.3,315.58 144.97,317.42 146,320 C147.03,322.58 148,326.5 149,331 C150,335.5 150.92,343.08 152,347 C153.08,350.92 154.5,354.17 155.5,354.5 C156.5,354.83 157.08,352.08 158,349 C158.92,345.92 159.83,340.83 161,336 C162.17,331.17 163.75,324 165,320 C166.25,316 167.27,313.62 168.5,312 C169.73,310.38 171.15,309.3 172.4,310.3 C173.65,311.3 174.73,314.22 176,318 C177.27,321.78 178.67,328.33 180,333 C181.33,337.67 182.8,343.33 184,346 C185.2,348.67 186.2,349.33 187.2,349 C188.2,348.67 189.03,347.17 190,344 C190.97,340.83 192,335.67 193,330 C194,324.33 195,316.17 196,310 C197,303.83 198.23,296.58 199,293 C199.77,289.42 199.93,288.58 200.6,288.5 C201.27,288.42 201.87,290.42 203,292.5 C204.13,294.58 206.23,298.25 207.4,301 C208.57,303.75 209.07,305.33 210,309 C210.93,312.67 211.93,318.17 213,323 C214.07,327.83 215.4,337 216.4,338 C217.4,339 218.13,331.67 219,329 C219.87,326.33 220.82,320.67 221.6,322 C222.38,323.33 222.95,329.83 223.7,337 C224.45,344.17 225.33,355.33 226.1,365 C226.87,374.67 227.62,385.83 228.3,395 C228.98,404.17 229.63,413.5 230.2,420 C230.77,426.5 231.18,434.83 231.7,434 C232.22,433.17 232.75,422.67 233.3,415 C233.85,407.33 234.42,396.83 235,388 C235.58,379.17 236.28,370 236.8,362 C237.32,354 237.57,349.83 238.1,340 C238.63,330.17 239.22,312.33 240,303 C240.78,293.67 241.88,286 242.8,284 C243.72,282 244.43,288.33 245.5,291 C246.57,293.67 248.12,298.75 249.2,300 C250.28,301.25 251.07,299.33 252,298.5 C252.93,297.67 253.8,297.25 254.8,295 C255.8,292.75 256.97,288.67 258,285 C259.03,281.33 260.13,275.83 261,273 C261.87,270.17 262.45,267.67 263.2,268 C263.95,268.33 264.78,271.33 265.5,275 C266.22,278.67 266.83,285 267.5,290 C268.17,295 268.83,299.67 269.5,305 C270.17,310.33 270.95,316.17 271.5,322 C272.05,327.83 272.3,332.83 272.8,340 C273.3,347.17 273.8,355.33 274.5,365 C275.2,374.67 276.08,387.5 277,398 C277.92,408.5 279.08,419.33 280,428 C280.92,436.67 281.73,444.92 282.5,450 C283.27,455.08 283.93,459.33 284.6,458.5 C285.27,457.67 285.85,452.75 286.5,445 C287.15,437.25 287.77,426.17 288.5,412 C289.23,397.83 290.18,372 290.9,360 C291.62,348 292.2,346.67 292.8,340 C293.4,333.33 293.88,324.83 294.5,320 C295.12,315.17 295.78,312.83 296.5,311 C297.22,309.17 298.05,309.6 298.8,309 C299.55,308.4 300.22,309.23 301,307.4 C301.78,305.57 302.58,301.9 303.5,298 C304.42,294.1 305.4,287.7 306.5,284 C307.6,280.3 309.02,275.8 310.1,275.8 C311.18,275.8 312.02,279.97 313,284 C313.98,288.03 314.98,294.97 316,300 C317.02,305.03 318.1,310.03 319.1,314.2 C320.1,318.37 321.02,321.37 322,325 C322.98,328.63 323.97,333.25 325,336 C326.03,338.75 327.2,341.5 328.2,341.5 C329.2,341.5 330.03,338.75 331,336 C331.97,333.25 332.9,328.45 334,325 C335.1,321.55 336.52,316.47 337.6,315.3 C338.68,314.13 339.43,316.72 340.5,318 C341.57,319.28 342.75,321.5 344,323 C345.25,324.5 347.33,326.33 348,327" fill="none" stroke="#999" stroke-width="3.6" stroke-linejoin="round" stroke-linecap="round" stroke-opacity="0.6"/>
<path d="M58.4,323.5 C59,324 60.45,325.17 62,326.5 C63.55,327.83 66.03,329.92 67.7,331.5 C69.37,333.08 70.58,334.92 72,336 C73.42,337.08 74.87,338.33 76.2,338 C77.53,337.67 78.7,336 80,334 C81.3,332 82.53,328.25 84,326 C85.47,323.75 87.3,321.08 88.8,320.5 C90.3,319.92 91.63,321.67 93,322.5 C94.37,323.33 95.58,324.5 97,325.5 C98.42,326.5 100,327.33 101.5,328.5 C103,329.67 104.4,331.25 106,332.5 C107.6,333.75 109.6,336.25 111.1,336 C112.6,335.75 113.68,332.83 115,331 C116.32,329.17 117.65,326.42 119,325 C120.35,323.58 121.93,322.5 123.1,322.5 C124.27,322.5 125.02,324.08 126,325 C126.98,325.92 127.83,328.08 129,328 C130.17,327.92 131.67,325.92 133,324.5 C134.33,323.08 135.37,321 137,319.5 C138.63,318 141.3,315.42 142.8,315.5 C144.3,315.58 144.97,317.42 146,320 C147.03,322.58 148,326.5 149,331 C150,335.5 150.92,343.08 152,347 C153.08,350.92 154.5,354.17 155.5,354.5 C156.5,354.83 157.08,352.08 158,349 C158.92,345.92 159.83,340.83 161,336 C162.17,331.17 163.75,324 165,320 C166.25,316 167.27,313.62 168.5,312 C169.73,310.38 171.15,309.3 172.4,310.3 C173.65,311.3 174.73,314.22 176,318 C177.27,321.78 178.67,328.33 180,333 C181.33,337.67 182.8,343.33 184,346 C185.2,348.67 186.2,349.33 187.2,349 C188.2,348.67 189.03,347.17 190,344 C190.97,340.83 192,335.67 193,330 C194,324.33 195,316.17 196,310 C197,303.83 198.23,296.58 199,293 C199.77,289.42 199.93,288.58 200.6,288.5 C201.27,288.42 201.87,290.42 203,292.5 C204.13,294.58 206.23,298.25 207.4,301 C208.57,303.75 209.07,305.33 210,309 C210.93,312.67 211.93,318.17 213,323 C214.07,327.83 215.4,337 216.4,338 C217.4,339 218.13,331.67 219,329 C219.87,326.33 220.82,320.67 221.6,322 C222.38,323.33 222.95,329.83 223.7,337 C224.45,344.17 225.33,355.33 226.1,365 C226.87,374.67 227.62,385.83 228.3,395 C228.98,404.17 229.63,413.5 230.2,420 C230.77,426.5 231.18,434.83 231.7,434 C232.22,433.17 232.75,422.67 233.3,415 C233.85,407.33 234.42,396.83 235,388 C235.58,379.17 236.28,370 236.8,362 C237.32,354 237.57,349.83 238.1,340 C238.63,330.17 239.22,312.33 240,303 C240.78,293.67 241.88,286 242.8,284 C243.72,282 244.43,288.33 245.5,291 C246.57,293.67 248.12,298.75 249.2,300 C250.28,301.25 251.07,299.33 252,298.5 C252.93,297.67 253.8,297.25 254.8,295 C255.8,292.75 256.97,288.67 258,285 C259.03,281.33 260.13,275.83 261,273 C261.87,270.17 262.45,267.67 263.2,268 C263.95,268.33 264.78,271.33 265.5,275 C266.22,278.67 266.83,285 267.5,290 C268.17,295 268.83,299.67 269.5,305 C270.17,310.33 270.95,316.17 271.5,322 C272.05,327.83 272.3,332.83 272.8,340 C273.3,347.17 273.8,355.33 274.5,365 C275.2,374.67 276.08,387.5 277,398 C277.92,408.5 279.08,419.33 280,428 C280.92,436.67 281.73,444.92 282.5,450 C283.27,455.08 283.93,459.33 284.6,458.5 C285.27,457.67 285.85,452.75 286.5,445 C287.15,437.25 287.77,426.17 288.5,412 C289.23,397.83 290.18,372 290.9,360 C291.62,348 292.2,346.67 292.8,340 C293.4,333.33 293.88,324.83 294.5,320 C295.12,315.17 295.78,312.83 296.5,311 C297.22,309.17 298.05,309.6 298.8,309 C299.55,308.4 300.22,309.23 301,307.4 C301.78,305.57 302.58,301.9 303.5,298 C304.42,294.1 305.4,287.7 306.5,284 C307.6,280.3 309.02,275.8 310.1,275.8 C311.18,275.8 312.02,279.97 313,284 C313.98,288.03 314.98,294.97 316,300 C317.02,305.03 318.1,310.03 319.1,314.2 C320.1,318.37 321.02,321.37 322,325 C322.98,328.63 323.97,333.25 325,336 C326.03,338.75 327.2,341.5 328.2,341.5 C329.2,341.5 330.03,338.75 331,336 C331.97,333.25 332.9,328.45 334,325 C335.1,321.55 336.52,316.47 337.6,315.3 C338.68,314.13 339.43,316.72 340.5,318 C341.57,319.28 342.75,321.5 344,323 C345.25,324.5 347.33,326.33 348,327" fill="none" stroke="#000" stroke-width="2.5" stroke-linejoin="round" stroke-linecap="round"/>
<path d="M58.4,325.6 C59,325.92 60.45,326.62 62,327.5 C63.55,328.38 66.03,329.73 67.7,330.9 C69.37,332.07 70.58,333.55 72,334.5 C73.42,335.45 74.87,336.85 76.2,336.6 C77.53,336.35 78.7,334.77 80,333 C81.3,331.23 82.53,327.95 84,326 C85.47,324.05 87.3,321.8 88.8,321.3 C90.3,320.8 91.63,322.22 93,323 C94.37,323.78 95.58,325.03 97,326 C98.42,326.97 100,327.8 101.5,328.8 C103,329.8 104.4,330.95 106,332 C107.6,333.05 109.6,335.27 111.1,335.1 C112.6,334.93 113.68,332.52 115,331 C116.32,329.48 117.65,327.25 119,326 C120.35,324.75 121.93,323.58 123.1,323.5 C124.27,323.42 125.02,324.73 126,325.5 C126.98,326.27 127.83,328.18 129,328.1 C130.17,328.02 131.67,326.27 133,325 C134.33,323.73 135.37,321.98 137,320.5 C138.63,319.02 141.3,316.18 142.8,316.1 C144.3,316.02 144.97,317.68 146,320 C147.03,322.32 148,325.83 149,330 C150,334.17 150.92,341.15 152,345 C153.08,348.85 154.5,352.6 155.5,353.1 C156.5,353.6 157.08,350.85 158,348 C158.92,345.15 159.83,340.08 161,336 C162.17,331.92 163.75,326.08 165,323.5 C166.25,320.92 167.27,321.57 168.5,320.5 C169.73,319.43 171.15,316.85 172.4,317.1 C173.65,317.35 174.73,319.18 176,322 C177.27,324.82 178.67,330.17 180,334 C181.33,337.83 182.8,342.7 184,345 C185.2,347.3 186.2,348.13 187.2,347.8 C188.2,347.47 189.03,345.97 190,343 C190.97,340.03 192,335.5 193,330 C194,324.5 195,316.17 196,310 C197,303.83 198.23,296.63 199,293 C199.77,289.37 199.93,288.37 200.6,288.2 C201.27,288.03 201.87,289.93 203,292 C204.13,294.07 206.23,297.93 207.4,300.6 C208.57,303.27 209.07,304.43 210,308 C210.93,311.57 211.93,317.22 213,322 C214.07,326.78 215.4,335.7 216.4,336.7 C217.4,337.7 218.13,330.63 219,328 C219.87,325.37 220.82,319.73 221.6,320.9 C222.38,322.07 222.95,328.48 223.7,335 C224.45,341.52 225.33,350.83 226.1,360 C226.87,369.17 227.62,381.33 228.3,390 C228.98,398.67 229.63,406.17 230.2,412 C230.77,417.83 231.18,425.33 231.7,425 C232.22,424.67 232.75,416.67 233.3,410 C233.85,403.33 234.42,393.33 235,385 C235.58,376.67 236.28,367.5 236.8,360 C237.32,352.5 237.57,349.17 238.1,340 C238.63,330.83 239.22,314.2 240,305 C240.78,295.8 241.88,286.97 242.8,284.8 C243.72,282.63 244.43,289.37 245.5,292 C246.57,294.63 248.12,299.43 249.2,300.6 C250.28,301.77 251.07,299.75 252,299 C252.93,298.25 253.8,298.1 254.8,296.1 C255.8,294.1 256.97,290.35 258,287 C259.03,283.65 260.13,278.8 261,276 C261.87,273.2 262.45,270.03 263.2,270.2 C263.95,270.37 264.78,273.7 265.5,277 C266.22,280.3 266.83,285.32 267.5,290 C268.17,294.68 268.75,300.1 269.5,305.1 C270.25,310.1 271.17,314.18 272,320 C272.83,325.82 273.92,333.33 274.5,340 C275.08,346.67 275,351.67 275.5,360 C276,368.33 276.75,380 277.5,390 C278.25,400 279.17,410 280,420 C280.83,430 281.73,441.67 282.5,450 C283.27,458.33 283.93,470 284.6,470 C285.27,470 285.85,459.17 286.5,450 C287.15,440.83 287.77,430 288.5,415 C289.23,400 290.18,372.5 290.9,360 C291.62,347.5 292.2,347 292.8,340 C293.4,333 293.88,323.67 294.5,318 C295.12,312.33 295.78,308.7 296.5,306 C297.22,303.3 298.05,302.13 298.8,301.8 C299.55,301.47 300.22,304.63 301,304 C301.78,303.37 302.58,300.67 303.5,298 C304.42,295.33 305.4,290.77 306.5,288 C307.6,285.23 309.02,281.4 310.1,281.4 C311.18,281.4 312.02,284.57 313,288 C313.98,291.43 314.98,297.63 316,302 C317.02,306.37 318.1,310.37 319.1,314.2 C320.1,318.03 321.02,321.37 322,325 C322.98,328.63 323.97,333.1 325,336 C326.03,338.9 327.2,342.23 328.2,342.4 C329.2,342.57 330.03,339.9 331,337 C331.97,334.1 332.9,328.62 334,325 C335.1,321.38 336.52,316.47 337.6,315.3 C338.68,314.13 339.43,316.72 340.5,318 C341.57,319.28 342.75,321.5 344,323 C345.25,324.5 347.33,326.33 348,327" fill="none" stroke="#00f000" stroke-width="2.5" stroke-linejoin="round" stroke-linecap="round"/>
<path d="M284.6,468 L284.6,476" fill="none" stroke="#9ef09e" stroke-width="1.6" stroke-linecap="round"/>
<path d="M402,325.5 C402.67,325.92 404.55,327.08 406,328 C407.45,328.92 409.2,329.83 410.7,331 C412.2,332.17 413.42,333.83 415,335 C416.58,336.17 418.7,338.5 420.2,338 C421.7,337.5 422.7,334.17 424,332 C425.3,329.83 426.7,326.5 428,325 C429.3,323.5 430.47,322.83 431.8,323 C433.13,323.17 434.63,325.08 436,326 C437.37,326.92 438.58,327.67 440,328.5 C441.42,329.33 442.83,330.17 444.5,331 C446.17,331.83 448.05,332.67 450,333.5 C451.95,334.33 454.53,336.33 456.2,336 C457.87,335.67 458.87,332.92 460,331.5 C461.13,330.08 461.98,328.42 463,327.5 C464.02,326.58 465.02,325.92 466.1,326 C467.18,326.08 468.33,327.33 469.5,328 C470.67,328.67 471.85,330.33 473.1,330 C474.35,329.67 475.68,327.33 477,326 C478.32,324.67 479.35,323.17 481,322 C482.65,320.83 485.4,318.83 486.9,319 C488.4,319.17 488.98,320.67 490,323 C491.02,325.33 492,329.5 493,333 C494,336.5 494.98,341.08 496,344 C497.02,346.92 498.1,350.17 499.1,350.5 C500.1,350.83 501.02,348.42 502,346 C502.98,343.58 503.83,339.33 505,336 C506.17,332.67 507.83,328.58 509,326 C510.17,323.42 510.93,321.8 512,320.5 C513.07,319.2 514.32,318.12 515.4,318.2 C516.48,318.28 517.4,319.03 518.5,321 C519.6,322.97 520.75,326.67 522,330 C523.25,333.33 524.52,337.92 526,341 C527.48,344.08 529.57,348.5 530.9,348.5 C532.23,348.5 532.98,345.25 534,341 C535.02,336.75 536,329 537,323 C538,317 539.17,309.33 540,305 C540.83,300.67 541.32,298.75 542,297 C542.68,295.25 543.27,294.17 544.1,294.5 C544.93,294.83 545.98,297.08 547,299 C548.02,300.92 549.03,302.83 550.2,306 C551.37,309.17 552.78,313.67 554,318 C555.22,322.33 556.45,328.33 557.5,332 C558.55,335.67 559.38,340.17 560.3,340 C561.22,339.83 562.17,333.17 563,331 C563.83,328.83 564.62,325.5 565.3,327 C565.98,328.5 566.48,334.83 567.1,340 C567.72,345.17 568.35,351.33 569,358 C569.65,364.67 570.33,373 571,380 C571.67,387 572.37,394.83 573,400 C573.63,405.17 574.32,408.58 574.8,411 C575.28,413.42 575.5,415.5 575.9,414.5 C576.3,413.5 576.72,409.92 577.2,405 C577.68,400.08 578.3,392.17 578.8,385 C579.3,377.83 579.75,369.5 580.2,362 C580.65,354.5 580.95,348.67 581.5,340 C582.05,331.33 582.7,318.17 583.5,310 C584.3,301.83 585.38,293.33 586.3,291 C587.22,288.67 587.98,294.17 589,296 C590.02,297.83 591.32,301.17 592.4,302 C593.48,302.83 594.38,301.58 595.5,301 C596.62,300.42 598.02,300 599.1,298.5 C600.18,297 601.02,294.42 602,292 C602.98,289.58 604.12,286.13 605,284 C605.88,281.87 606.47,279.03 607.3,279.2 C608.13,279.37 609.05,281.2 610,285 C610.95,288.8 611.97,292.83 613,302 C614.03,311.17 615.02,329.33 616.2,340 C617.38,350.67 619.05,356.83 620.1,366 C621.15,375.17 621.68,385.17 622.5,395 C623.32,404.83 624.25,416.67 625,425 C625.75,433.33 626.35,439.7 627,445 C627.65,450.3 628.32,457.63 628.9,456.8 C629.48,455.97 629.9,448.13 630.5,440 C631.1,431.87 631.78,420.5 632.5,408 C633.22,395.5 634,376.33 634.8,365 C635.6,353.67 636.63,347.5 637.3,340 C637.97,332.5 638.08,325.17 638.8,320 C639.52,314.83 640.57,310.83 641.6,309 C642.63,307.17 643.93,310.5 645,309 C646.07,307.5 647,303 648,300 C649,297 650,293.33 651,291 C652,288.67 653,286.17 654,286 C655,285.83 656,287.33 657,290 C658,292.67 659,297.5 660,302 C661,306.5 662,312.75 663,317 C664,321.25 665,324.17 666,327.5 C667,330.83 668,334.42 669,337 C670,339.58 671,343.17 672,343 C673,342.83 674,339.17 675,336 C676,332.83 677,327.08 678,324 C679,320.92 680,318.17 681,317.5 C682,316.83 682.83,318.67 684,320 C685.17,321.33 686.8,324.13 688,325.5 C689.2,326.87 690.67,327.75 691.2,328.2" fill="none" stroke="#999" stroke-width="3.6" stroke-linejoin="round" stroke-linecap="round" stroke-opacity="0.6"/>
<path d="M402,325.5 C402.67,325.92 404.55,327.08 406,328 C407.45,328.92 409.2,329.83 410.7,331 C412.2,332.17 413.42,333.83 415,335 C416.58,336.17 418.7,338.5 420.2,338 C421.7,337.5 422.7,334.17 424,332 C425.3,329.83 426.7,326.5 428,325 C429.3,323.5 430.47,322.83 431.8,323 C433.13,323.17 434.63,325.08 436,326 C437.37,326.92 438.58,327.67 440,328.5 C441.42,329.33 442.83,330.17 444.5,331 C446.17,331.83 448.05,332.67 450,333.5 C451.95,334.33 454.53,336.33 456.2,336 C457.87,335.67 458.87,332.92 460,331.5 C461.13,330.08 461.98,328.42 463,327.5 C464.02,326.58 465.02,325.92 466.1,326 C467.18,326.08 468.33,327.33 469.5,328 C470.67,328.67 471.85,330.33 473.1,330 C474.35,329.67 475.68,327.33 477,326 C478.32,324.67 479.35,323.17 481,322 C482.65,320.83 485.4,318.83 486.9,319 C488.4,319.17 488.98,320.67 490,323 C491.02,325.33 492,329.5 493,333 C494,336.5 494.98,341.08 496,344 C497.02,346.92 498.1,350.17 499.1,350.5 C500.1,350.83 501.02,348.42 502,346 C502.98,343.58 503.83,339.33 505,336 C506.17,332.67 507.83,328.58 509,326 C510.17,323.42 510.93,321.8 512,320.5 C513.07,319.2 514.32,318.12 515.4,318.2 C516.48,318.28 517.4,319.03 518.5,321 C519.6,322.97 520.75,326.67 522,330 C523.25,333.33 524.52,337.92 526,341 C527.48,344.08 529.57,348.5 530.9,348.5 C532.23,348.5 532.98,345.25 534,341 C535.02,336.75 536,329 537,323 C538,317 539.17,309.33 540,305 C540.83,300.67 541.32,298.75 542,297 C542.68,295.25 543.27,294.17 544.1,294.5 C544.93,294.83 545.98,297.08 547,299 C548.02,300.92 549.03,302.83 550.2,306 C551.37,309.17 552.78,313.67 554,318 C555.22,322.33 556.45,328.33 557.5,332 C558.55,335.67 559.38,340.17 560.3,340 C561.22,339.83 562.17,333.17 563,331 C563.83,328.83 564.62,325.5 565.3,327 C565.98,328.5 566.48,334.83 567.1,340 C567.72,345.17 568.35,351.33 569,358 C569.65,364.67 570.33,373 571,380 C571.67,387 572.37,394.83 573,400 C573.63,405.17 574.32,408.58 574.8,411 C575.28,413.42 575.5,415.5 575.9,414.5 C576.3,413.5 576.72,409.92 577.2,405 C577.68,400.08 578.3,392.17 578.8,385 C579.3,377.83 579.75,369.5 580.2,362 C580.65,354.5 580.95,348.67 581.5,340 C582.05,331.33 582.7,318.17 583.5,310 C584.3,301.83 585.38,293.33 586.3,291 C587.22,288.67 587.98,294.17 589,296 C590.02,297.83 591.32,301.17 592.4,302 C593.48,302.83 594.38,301.58 595.5,301 C596.62,300.42 598.02,300 599.1,298.5 C600.18,297 601.02,294.42 602,292 C602.98,289.58 604.12,286.13 605,284 C605.88,281.87 606.47,279.03 607.3,279.2 C608.13,279.37 609.05,281.2 610,285 C610.95,288.8 611.97,292.83 613,302 C614.03,311.17 615.02,329.33 616.2,340 C617.38,350.67 619.05,356.83 620.1,366 C621.15,375.17 621.68,385.17 622.5,395 C623.32,404.83 624.25,416.67 625,425 C625.75,433.33 626.35,439.7 627,445 C627.65,450.3 628.32,457.63 628.9,456.8 C629.48,455.97 629.9,448.13 630.5,440 C631.1,431.87 631.78,420.5 632.5,408 C633.22,395.5 634,376.33 634.8,365 C635.6,353.67 636.63,347.5 637.3,340 C637.97,332.5 638.08,325.17 638.8,320 C639.52,314.83 640.57,310.83 641.6,309 C642.63,307.17 643.93,310.5 645,309 C646.07,307.5 647,303 648,300 C649,297 650,293.33 651,291 C652,288.67 653,286.17 654,286 C655,285.83 656,287.33 657,290 C658,292.67 659,297.5 660,302 C661,306.5 662,312.75 663,317 C664,321.25 665,324.17 666,327.5 C667,330.83 668,334.42 669,337 C670,339.58 671,343.17 672,343 C673,342.83 674,339.17 675,336 C676,332.83 677,327.08 678,324 C679,320.92 680,318.17 681,317.5 C682,316.83 682.83,318.67 684,320 C685.17,321.33 686.8,324.13 688,325.5 C689.2,326.87 690.67,327.75 691.2,328.2" fill="none" stroke="#000" stroke-width="2.5" stroke-linejoin="round" stroke-linecap="round"/>
<path d="M402,327.3 C402.67,327.58 404.55,328.4 406,329 C407.45,329.6 409.2,329.98 410.7,330.9 C412.2,331.82 413.42,333.1 415,334.5 C416.58,335.9 418.7,339.55 420.2,339.3 C421.7,339.05 422.7,335.38 424,333 C425.3,330.62 426.7,326.77 428,325 C429.3,323.23 430.47,322.4 431.8,322.4 C433.13,322.4 434.63,324.15 436,325 C437.37,325.85 438.58,326.7 440,327.5 C441.42,328.3 442.83,328.97 444.5,329.8 C446.17,330.63 448.05,331.62 450,332.5 C451.95,333.38 454.53,335.35 456.2,335.1 C457.87,334.85 458.87,332.35 460,331 C461.13,329.65 461.98,327.97 463,327 C464.02,326.03 465.02,325.12 466.1,325.2 C467.18,325.28 468.33,326.8 469.5,327.5 C470.67,328.2 471.85,329.82 473.1,329.4 C474.35,328.98 475.68,326.4 477,325 C478.32,323.6 479.35,322.25 481,321 C482.65,319.75 485.4,317.33 486.9,317.5 C488.4,317.67 488.98,319.42 490,322 C491.02,324.58 492,329 493,333 C494,337 494.98,342.65 496,346 C497.02,349.35 498.1,352.93 499.1,353.1 C500.1,353.27 501.02,350.02 502,347 C502.98,343.98 503.83,339 505,335 C506.17,331 507.83,326 509,323 C510.17,320 510.93,318.52 512,317 C513.07,315.48 514.32,313.73 515.4,313.9 C516.48,314.07 517.4,315.65 518.5,318 C519.6,320.35 520.75,324.33 522,328 C523.25,331.67 524.52,336.7 526,340 C527.48,343.3 529.57,347.8 530.9,347.8 C532.23,347.8 532.98,344.3 534,340 C535.02,335.7 536,328.17 537,322 C538,315.83 539.17,307.5 540,303 C540.83,298.5 541.32,296.72 542,295 C542.68,293.28 543.27,292.2 544.1,292.7 C544.93,293.2 545.98,296.12 547,298 C548.02,299.88 549.03,301.17 550.2,304 C551.37,306.83 552.78,310.83 554,315 C555.22,319.17 556.45,325.38 557.5,329 C558.55,332.62 559.38,336.7 560.3,336.7 C561.22,336.7 562.17,330.88 563,329 C563.83,327.12 564.62,323.57 565.3,325.4 C565.98,327.23 566.48,334.23 567.1,340 C567.72,345.77 568.35,352.5 569,360 C569.65,367.5 570.33,376.67 571,385 C571.67,393.33 572.37,402.83 573,410 C573.63,417.17 574.32,424.17 574.8,428 C575.28,431.83 575.5,434.33 575.9,433 C576.3,431.67 576.72,426.33 577.2,420 C577.68,413.67 578.3,404.17 578.8,395 C579.3,385.83 579.75,374.17 580.2,365 C580.65,355.83 580.95,349.17 581.5,340 C582.05,330.83 582.7,318.45 583.5,310 C584.3,301.55 585.38,291.8 586.3,289.3 C587.22,286.8 587.98,293.12 589,295 C590.02,296.88 591.32,299.93 592.4,300.6 C593.48,301.27 594.38,299.57 595.5,299 C596.62,298.43 598.02,298.7 599.1,297.2 C600.18,295.7 601.02,292.87 602,290 C602.98,287.13 604.12,282.75 605,280 C605.88,277.25 606.47,273.5 607.3,273.5 C608.13,273.5 609.05,275.58 610,280 C610.95,284.42 611.97,290 613,300 C614.03,310 615.02,329.17 616.2,340 C617.38,350.83 619.05,355.83 620.1,365 C621.15,374.17 621.68,385 622.5,395 C623.32,405 624.25,416.17 625,425 C625.75,433.83 626.35,442 627,448 C627.65,454 628.32,461.5 628.9,461 C629.48,460.5 629.9,453.5 630.5,445 C631.1,436.5 631.78,423.33 632.5,410 C633.22,396.67 634,376.67 634.8,365 C635.6,353.33 636.63,347.83 637.3,340 C637.97,332.17 638.08,323.43 638.8,318 C639.52,312.57 640.57,309.17 641.6,307.4 C642.63,305.63 643.93,309.47 645,307.4 C646.07,305.33 647,299.23 648,295 C649,290.77 650,285.2 651,282 C652,278.8 653,275.63 654,275.8 C655,275.97 656,278.97 657,283 C658,287.03 659,294.43 660,300 C661,305.57 662,311.9 663,316.4 C664,320.9 665,323.57 666,327 C667,330.43 668,334.25 669,337 C670,339.75 671,343.67 672,343.5 C673,343.33 674,339.25 675,336 C676,332.75 677,327.08 678,324 C679,320.92 680,318.17 681,317.5 C682,316.83 682.83,318.67 684,320 C685.17,321.33 686.8,324.13 688,325.5 C689.2,326.87 690.67,327.75 691.2,328.2" fill="none" stroke="#0000ff" stroke-width="2.5" stroke-linejoin="round" stroke-linecap="round"/>
<path d="M628.9,458 L628.9,472" fill="none" stroke="#a0a0f5" stroke-width="1.6" stroke-linecap="round"/>
<rect x="75.7" y="172.1" width="122.8" height="45" fill="#000"/>
<rect x="72.5" y="168.3" width="122.8" height="45" fill="#fff" stroke="#8a8a8a" stroke-width="0.8"/>
<line x1="74.5" y1="180.3" x2="112.8" y2="180.3" stroke="#000" stroke-width="1.6"/>
<line x1="74.5" y1="201.5" x2="112.8" y2="201.5" stroke="#ff0000" stroke-width="1.6"/>
<text x="118.3" y="186.1" font-size="16.4" fill="#000" textLength="73.7" lengthAdjust="spacingAndGlyphs">NT6w_LA</text>
<text x="118.3" y="207.8" font-size="16.4" fill="#000" textLength="73.7" lengthAdjust="spacingAndGlyphs">HT6w_LA</text>
<rect x="410.5" y="166" width="126.5" height="45.3" fill="#fff" stroke="#8a8a8a" stroke-width="0.8"/>
<line x1="413.4" y1="178.4" x2="451" y2="178.4" stroke="#000" stroke-width="1.6"/>
<line x1="413.4" y1="199.6" x2="451" y2="199.6" stroke="#ff8000" stroke-width="1.6"/>
<text x="456.4" y="183.7" font-size="16.4" fill="#000" textLength="77.9" lengthAdjust="spacingAndGlyphs">NT6w_RA</text>
<text x="456.4" y="205.1" font-size="16.4" fill="#000" textLength="77.9" lengthAdjust="spacingAndGlyphs">HT6w_RA</text>
<rect x="69.7" y="421.9" width="122.5" height="45.3" fill="#000"/>
<rect x="66.4" y="418.4" width="122.5" height="45.3" fill="#fff" stroke="#8a8a8a" stroke-width="0.8"/>
<line x1="69" y1="431" x2="107" y2="431" stroke="#000" stroke-width="1.6"/>
<line x1="69" y1="451.9" x2="107" y2="451.9" stroke="#00f000" stroke-width="1.6"/>
<text x="112.5" y="436.6" font-size="16.4" fill="#000" textLength="74" lengthAdjust="spacingAndGlyphs">NT6w_LV</text>
<text x="112.5" y="458" font-size="16.4" fill="#000" textLength="74" lengthAdjust="spacingAndGlyphs">HT6w_LV</text>
<rect x="412.7" y="422.9" width="128.8" height="45.7" fill="#000"/>
<rect x="409.2" y="419.7" width="128.8" height="45.7" fill="#fff" stroke="#8a8a8a" stroke-width="0.8"/>
<line x1="412.2" y1="431.9" x2="450.1" y2="431.9" stroke="#000" stroke-width="1.6"/>
<line x1="412.2" y1="453.6" x2="450.1" y2="453.6" stroke="#0000ff" stroke-width="1.6"/>
<text x="456.2" y="437.5" font-size="16.4" fill="#000" textLength="77" lengthAdjust="spacingAndGlyphs">NT6w_RV</text>
<text x="456.2" y="459.2" font-size="16.4" fill="#000" textLength="77" lengthAdjust="spacingAndGlyphs">HT6w_RV</text>
<ellipse cx="157.1" cy="98.5" rx="10.2" ry="14.8" fill="none" stroke="#ff0000" stroke-width="1.6"/>
<ellipse cx="234.1" cy="169.9" rx="14.1" ry="16.2" fill="none" stroke="#ff0000" stroke-width="1.6"/>
<ellipse cx="288.25" cy="205" rx="13.9" ry="31.6" fill="none" stroke="#ff0000" stroke-width="1.6"/>
<ellipse cx="498.6" cy="351.6" rx="8.9" ry="15.2" fill="none" stroke="#ff0000" stroke-width="1.6"/>
<ellipse cx="576.1" cy="422.9" rx="14.1" ry="16.3" fill="none" stroke="#ff0000" stroke-width="1.6"/>
<ellipse cx="630.6" cy="457.55" rx="14" ry="16.2" fill="none" stroke="#ff0000" stroke-width="1.6"/>
<line x1="60.7" y1="781.6" x2="60.7" y2="785.8" stroke="#222" stroke-width="1"/>
<text x="60.7" y="798.2" font-size="11.8" fill="#111" text-anchor="middle" textLength="19.68" lengthAdjust="spacingAndGlyphs">600</text>
<line x1="84.53" y1="781.6" x2="84.53" y2="783.8" stroke="#222" stroke-width="1"/>
<line x1="108.36" y1="781.6" x2="108.36" y2="785.8" stroke="#222" stroke-width="1"/>
<text x="108.36" y="798.2" font-size="11.8" fill="#111" text-anchor="middle" textLength="19.68" lengthAdjust="spacingAndGlyphs">800</text>
<line x1="132.19" y1="781.6" x2="132.19" y2="783.8" stroke="#222" stroke-width="1"/>
<line x1="156.02" y1="781.6" x2="156.02" y2="785.8" stroke="#222" stroke-width="1"/>
<text x="156.02" y="798.2" font-size="11.8" fill="#111" text-anchor="middle" textLength="26.24" lengthAdjust="spacingAndGlyphs">1000</text>
<line x1="179.85" y1="781.6" x2="179.85" y2="783.8" stroke="#222" stroke-width="1"/>
<line x1="203.68" y1="781.6" x2="203.68" y2="785.8" stroke="#222" stroke-width="1"/>
<text x="203.68" y="798.2" font-size="11.8" fill="#111" text-anchor="middle" textLength="26.24" lengthAdjust="spacingAndGlyphs">1200</text>
<line x1="227.51" y1="781.6" x2="227.51" y2="783.8" stroke="#222" stroke-width="1"/>
<line x1="251.34" y1="781.6" x2="251.34" y2="785.8" stroke="#222" stroke-width="1"/>
<text x="251.34" y="798.2" font-size="11.8" fill="#111" text-anchor="middle" textLength="26.24" lengthAdjust="spacingAndGlyphs">1400</text>
<line x1="275.17" y1="781.6" x2="275.17" y2="783.8" stroke="#222" stroke-width="1"/>
<line x1="299" y1="781.6" x2="299" y2="785.8" stroke="#222" stroke-width="1"/>
<text x="299" y="798.2" font-size="11.8" fill="#111" text-anchor="middle" textLength="26.24" lengthAdjust="spacingAndGlyphs">1600</text>
<line x1="322.83" y1="781.6" x2="322.83" y2="783.8" stroke="#222" stroke-width="1"/>
<line x1="56.5" y1="781.8" x2="60.5" y2="781.8" stroke="#222" stroke-width="1"/>
<text x="53" y="784.91" font-size="8.9" fill="#222" text-anchor="end" textLength="12.86" lengthAdjust="spacingAndGlyphs">-50</text>
<line x1="58.5" y1="768.05" x2="60.5" y2="768.05" stroke="#222" stroke-width="1"/>
<line x1="56.5" y1="754.3" x2="60.5" y2="754.3" stroke="#222" stroke-width="1"/>
<text x="53" y="757.41" font-size="8.9" fill="#222" text-anchor="end" textLength="4.95" lengthAdjust="spacingAndGlyphs">0</text>
<line x1="58.5" y1="740.55" x2="60.5" y2="740.55" stroke="#222" stroke-width="1"/>
<line x1="56.5" y1="726.8" x2="60.5" y2="726.8" stroke="#222" stroke-width="1"/>
<text x="53" y="729.91" font-size="8.9" fill="#222" text-anchor="end" textLength="9.9" lengthAdjust="spacingAndGlyphs">50</text>
<line x1="58.5" y1="713.05" x2="60.5" y2="713.05" stroke="#222" stroke-width="1"/>
<line x1="56.5" y1="699.3" x2="60.5" y2="699.3" stroke="#222" stroke-width="1"/>
<text x="53" y="702.41" font-size="8.9" fill="#222" text-anchor="end" textLength="14.85" lengthAdjust="spacingAndGlyphs">100</text>
<line x1="58.5" y1="685.55" x2="60.5" y2="685.55" stroke="#222" stroke-width="1"/>
<line x1="56.5" y1="671.8" x2="60.5" y2="671.8" stroke="#222" stroke-width="1"/>
<text x="53" y="674.91" font-size="8.9" fill="#222" text-anchor="end" textLength="14.85" lengthAdjust="spacingAndGlyphs">150</text>
<line x1="58.5" y1="658.05" x2="60.5" y2="658.05" stroke="#222" stroke-width="1"/>
<line x1="56.5" y1="644.3" x2="60.5" y2="644.3" stroke="#222" stroke-width="1"/>
<text x="53" y="647.41" font-size="8.9" fill="#222" text-anchor="end" textLength="14.85" lengthAdjust="spacingAndGlyphs">200</text>
<line x1="58.5" y1="630.55" x2="60.5" y2="630.55" stroke="#222" stroke-width="1"/>
<line x1="56.5" y1="616.8" x2="60.5" y2="616.8" stroke="#222" stroke-width="1"/>
<text x="53" y="619.91" font-size="8.9" fill="#222" text-anchor="end" textLength="14.85" lengthAdjust="spacingAndGlyphs">250</text>
<line x1="58.5" y1="603.05" x2="60.5" y2="603.05" stroke="#222" stroke-width="1"/>
<line x1="56.5" y1="589.3" x2="60.5" y2="589.3" stroke="#222" stroke-width="1"/>
<text x="53" y="592.41" font-size="8.9" fill="#222" text-anchor="end" textLength="14.85" lengthAdjust="spacingAndGlyphs">300</text>
<line x1="58.5" y1="575.55" x2="60.5" y2="575.55" stroke="#222" stroke-width="1"/>
<line x1="56.5" y1="561.8" x2="60.5" y2="561.8" stroke="#222" stroke-width="1"/>
<text x="53" y="564.91" font-size="8.9" fill="#222" text-anchor="end" textLength="14.85" lengthAdjust="spacingAndGlyphs">350</text>
<line x1="58.5" y1="548.05" x2="60.5" y2="548.05" stroke="#222" stroke-width="1"/>
<line x1="60.5" y1="548" x2="60.5" y2="785.8" stroke="#222" stroke-width="1.2"/>
<line x1="56.5" y1="781.6" x2="342.5" y2="781.6" stroke="#222" stroke-width="1.2"/>
<text x="26.8" y="713.4" font-size="11" fill="#111" textLength="97.8" lengthAdjust="spacingAndGlyphs" transform="rotate(-90 26.8 713.4)">Intensity&#160;&#160;/ arb. units</text>
<line x1="394.3" y1="781.6" x2="394.3" y2="785.8" stroke="#111" stroke-width="1"/>
<text x="394.3" y="798.2" font-size="11.8" fill="#111" text-anchor="middle" textLength="19.68" lengthAdjust="spacingAndGlyphs">600</text>
<line x1="418.25" y1="781.6" x2="418.25" y2="783.8" stroke="#111" stroke-width="1"/>
<line x1="442.2" y1="781.6" x2="442.2" y2="785.8" stroke="#111" stroke-width="1"/>
<text x="442.2" y="798.2" font-size="11.8" fill="#111" text-anchor="middle" textLength="19.68" lengthAdjust="spacingAndGlyphs">800</text>
<line x1="466.15" y1="781.6" x2="466.15" y2="783.8" stroke="#111" stroke-width="1"/>
<line x1="490.1" y1="781.6" x2="490.1" y2="785.8" stroke="#111" stroke-width="1"/>
<text x="490.1" y="798.2" font-size="11.8" fill="#111" text-anchor="middle" textLength="26.24" lengthAdjust="spacingAndGlyphs">1000</text>
<line x1="514.05" y1="781.6" x2="514.05" y2="783.8" stroke="#111" stroke-width="1"/>
<line x1="538" y1="781.6" x2="538" y2="785.8" stroke="#111" stroke-width="1"/>
<text x="538" y="798.2" font-size="11.8" fill="#111" text-anchor="middle" textLength="26.24" lengthAdjust="spacingAndGlyphs">1200</text>
<line x1="561.95" y1="781.6" x2="561.95" y2="783.8" stroke="#111" stroke-width="1"/>
<line x1="585.9" y1="781.6" x2="585.9" y2="785.8" stroke="#111" stroke-width="1"/>
<text x="585.9" y="798.2" font-size="11.8" fill="#111" text-anchor="middle" textLength="26.24" lengthAdjust="spacingAndGlyphs">1400</text>
<line x1="609.85" y1="781.6" x2="609.85" y2="783.8" stroke="#111" stroke-width="1"/>
<line x1="633.8" y1="781.6" x2="633.8" y2="785.8" stroke="#111" stroke-width="1"/>
<text x="633.8" y="798.2" font-size="11.8" fill="#111" text-anchor="middle" textLength="26.24" lengthAdjust="spacingAndGlyphs">1600</text>
<line x1="657.75" y1="781.6" x2="657.75" y2="783.8" stroke="#111" stroke-width="1"/>
<line x1="390.3" y1="781.3" x2="394.3" y2="781.3" stroke="#8a8a8a" stroke-width="1"/>
<text x="386.6" y="784.41" font-size="8.9" fill="#222" text-anchor="end" textLength="12.86" lengthAdjust="spacingAndGlyphs">-50</text>
<line x1="392.3" y1="767.55" x2="394.3" y2="767.55" stroke="#8a8a8a" stroke-width="1"/>
<line x1="390.3" y1="753.8" x2="394.3" y2="753.8" stroke="#8a8a8a" stroke-width="1"/>
<text x="386.6" y="756.91" font-size="8.9" fill="#222" text-anchor="end" textLength="4.95" lengthAdjust="spacingAndGlyphs">0</text>
<line x1="392.3" y1="740.05" x2="394.3" y2="740.05" stroke="#8a8a8a" stroke-width="1"/>
<line x1="390.3" y1="726.3" x2="394.3" y2="726.3" stroke="#8a8a8a" stroke-width="1"/>
<text x="386.6" y="729.41" font-size="8.9" fill="#222" text-anchor="end" textLength="9.9" lengthAdjust="spacingAndGlyphs">50</text>
<line x1="392.3" y1="712.55" x2="394.3" y2="712.55" stroke="#8a8a8a" stroke-width="1"/>
<line x1="390.3" y1="698.8" x2="394.3" y2="698.8" stroke="#8a8a8a" stroke-width="1"/>
<text x="386.6" y="701.91" font-size="8.9" fill="#222" text-anchor="end" textLength="14.85" lengthAdjust="spacingAndGlyphs">100</text>
<line x1="392.3" y1="685.05" x2="394.3" y2="685.05" stroke="#8a8a8a" stroke-width="1"/>
<line x1="390.3" y1="671.3" x2="394.3" y2="671.3" stroke="#8a8a8a" stroke-width="1"/>
<text x="386.6" y="674.41" font-size="8.9" fill="#222" text-anchor="end" textLength="14.85" lengthAdjust="spacingAndGlyphs">150</text>
<line x1="392.3" y1="657.55" x2="394.3" y2="657.55" stroke="#8a8a8a" stroke-width="1"/>
<line x1="390.3" y1="643.8" x2="394.3" y2="643.8" stroke="#8a8a8a" stroke-width="1"/>
<text x="386.6" y="646.91" font-size="8.9" fill="#222" text-anchor="end" textLength="14.85" lengthAdjust="spacingAndGlyphs">200</text>
<line x1="392.3" y1="630.05" x2="394.3" y2="630.05" stroke="#8a8a8a" stroke-width="1"/>
<line x1="390.3" y1="616.3" x2="394.3" y2="616.3" stroke="#8a8a8a" stroke-width="1"/>
<text x="386.6" y="619.41" font-size="8.9" fill="#222" text-anchor="end" textLength="14.85" lengthAdjust="spacingAndGlyphs">250</text>
<line x1="392.3" y1="602.55" x2="394.3" y2="602.55" stroke="#8a8a8a" stroke-width="1"/>
<line x1="390.3" y1="588.8" x2="394.3" y2="588.8" stroke="#8a8a8a" stroke-width="1"/>
<text x="386.6" y="591.91" font-size="8.9" fill="#222" text-anchor="end" textLength="14.85" lengthAdjust="spacingAndGlyphs">300</text>
<line x1="392.3" y1="575.05" x2="394.3" y2="575.05" stroke="#8a8a8a" stroke-width="1"/>
<line x1="390.3" y1="561.3" x2="394.3" y2="561.3" stroke="#8a8a8a" stroke-width="1"/>
<text x="386.6" y="564.41" font-size="8.9" fill="#222" text-anchor="end" textLength="14.85" lengthAdjust="spacingAndGlyphs">350</text>
<line x1="392.3" y1="547.55" x2="394.3" y2="547.55" stroke="#8a8a8a" stroke-width="1"/>
<line x1="394.3" y1="548" x2="394.3" y2="785.8" stroke="#8a8a8a" stroke-width="1.7"/>
<line x1="390.3" y1="781.6" x2="676.7" y2="781.6" stroke="#111" stroke-width="1.2"/>
<text x="360.6" y="713.1" font-size="11" fill="#111" textLength="98" lengthAdjust="spacingAndGlyphs" transform="rotate(-90 360.6 713.1)">Intensity&#160;&#160;/ arb. units</text>
<line x1="62.2" y1="1038.4" x2="62.2" y2="1042.6" stroke="#111" stroke-width="1"/>
<text x="62.2" y="1054.3" font-size="11.8" fill="#111" text-anchor="middle" textLength="19.68" lengthAdjust="spacingAndGlyphs">600</text>
<line x1="86.12" y1="1038.4" x2="86.12" y2="1040.6" stroke="#111" stroke-width="1"/>
<line x1="110.04" y1="1038.4" x2="110.04" y2="1042.6" stroke="#111" stroke-width="1"/>
<text x="110.04" y="1054.3" font-size="11.8" fill="#111" text-anchor="middle" textLength="19.68" lengthAdjust="spacingAndGlyphs">800</text>
<line x1="133.96" y1="1038.4" x2="133.96" y2="1040.6" stroke="#111" stroke-width="1"/>
<line x1="157.88" y1="1038.4" x2="157.88" y2="1042.6" stroke="#111" stroke-width="1"/>
<text x="157.88" y="1054.3" font-size="11.8" fill="#111" text-anchor="middle" textLength="26.24" lengthAdjust="spacingAndGlyphs">1000</text>
<line x1="181.8" y1="1038.4" x2="181.8" y2="1040.6" stroke="#111" stroke-width="1"/>
<line x1="205.72" y1="1038.4" x2="205.72" y2="1042.6" stroke="#111" stroke-width="1"/>
<text x="205.72" y="1054.3" font-size="11.8" fill="#111" text-anchor="middle" textLength="26.24" lengthAdjust="spacingAndGlyphs">1200</text>
<line x1="229.64" y1="1038.4" x2="229.64" y2="1040.6" stroke="#111" stroke-width="1"/>
<line x1="253.56" y1="1038.4" x2="253.56" y2="1042.6" stroke="#111" stroke-width="1"/>
<text x="253.56" y="1054.3" font-size="11.8" fill="#111" text-anchor="middle" textLength="26.24" lengthAdjust="spacingAndGlyphs">1400</text>
<line x1="277.48" y1="1038.4" x2="277.48" y2="1040.6" stroke="#111" stroke-width="1"/>
<line x1="301.4" y1="1038.4" x2="301.4" y2="1042.6" stroke="#111" stroke-width="1"/>
<text x="301.4" y="1054.3" font-size="11.8" fill="#111" text-anchor="middle" textLength="26.24" lengthAdjust="spacingAndGlyphs">1600</text>
<line x1="325.32" y1="1038.4" x2="325.32" y2="1040.6" stroke="#111" stroke-width="1"/>
<line x1="58.2" y1="1038.5" x2="62.2" y2="1038.5" stroke="#7a7a7a" stroke-width="1"/>
<text x="54.9" y="1041.62" font-size="8.9" fill="#222" text-anchor="end" textLength="12.86" lengthAdjust="spacingAndGlyphs">-50</text>
<line x1="60.2" y1="1024.75" x2="62.2" y2="1024.75" stroke="#7a7a7a" stroke-width="1"/>
<line x1="58.2" y1="1011" x2="62.2" y2="1011" stroke="#7a7a7a" stroke-width="1"/>
<text x="54.9" y="1014.12" font-size="8.9" fill="#222" text-anchor="end" textLength="4.95" lengthAdjust="spacingAndGlyphs">0</text>
<line x1="60.2" y1="997.25" x2="62.2" y2="997.25" stroke="#7a7a7a" stroke-width="1"/>
<line x1="58.2" y1="983.5" x2="62.2" y2="983.5" stroke="#7a7a7a" stroke-width="1"/>
<text x="54.9" y="986.62" font-size="8.9" fill="#222" text-anchor="end" textLength="9.9" lengthAdjust="spacingAndGlyphs">50</text>
<line x1="60.2" y1="969.75" x2="62.2" y2="969.75" stroke="#7a7a7a" stroke-width="1"/>
<line x1="58.2" y1="956" x2="62.2" y2="956" stroke="#7a7a7a" stroke-width="1"/>
<text x="54.9" y="959.12" font-size="8.9" fill="#222" text-anchor="end" textLength="14.85" lengthAdjust="spacingAndGlyphs">100</text>
<line x1="60.2" y1="942.25" x2="62.2" y2="942.25" stroke="#7a7a7a" stroke-width="1"/>
<line x1="58.2" y1="928.5" x2="62.2" y2="928.5" stroke="#7a7a7a" stroke-width="1"/>
<text x="54.9" y="931.62" font-size="8.9" fill="#222" text-anchor="end" textLength="14.85" lengthAdjust="spacingAndGlyphs">150</text>
<line x1="60.2" y1="914.75" x2="62.2" y2="914.75" stroke="#7a7a7a" stroke-width="1"/>
<line x1="58.2" y1="901" x2="62.2" y2="901" stroke="#7a7a7a" stroke-width="1"/>
<text x="54.9" y="904.12" font-size="8.9" fill="#222" text-anchor="end" textLength="14.85" lengthAdjust="spacingAndGlyphs">200</text>
<line x1="60.2" y1="887.25" x2="62.2" y2="887.25" stroke="#7a7a7a" stroke-width="1"/>
<line x1="58.2" y1="873.5" x2="62.2" y2="873.5" stroke="#7a7a7a" stroke-width="1"/>
<text x="54.9" y="876.62" font-size="8.9" fill="#222" text-anchor="end" textLength="14.85" lengthAdjust="spacingAndGlyphs">250</text>
<line x1="60.2" y1="859.75" x2="62.2" y2="859.75" stroke="#7a7a7a" stroke-width="1"/>
<line x1="58.2" y1="846" x2="62.2" y2="846" stroke="#7a7a7a" stroke-width="1"/>
<text x="54.9" y="849.12" font-size="8.9" fill="#222" text-anchor="end" textLength="14.85" lengthAdjust="spacingAndGlyphs">300</text>
<line x1="60.2" y1="832.25" x2="62.2" y2="832.25" stroke="#7a7a7a" stroke-width="1"/>
<line x1="58.2" y1="818.5" x2="62.2" y2="818.5" stroke="#7a7a7a" stroke-width="1"/>
<text x="54.9" y="821.62" font-size="8.9" fill="#222" text-anchor="end" textLength="14.85" lengthAdjust="spacingAndGlyphs">350</text>
<line x1="60.2" y1="804.75" x2="62.2" y2="804.75" stroke="#7a7a7a" stroke-width="1"/>
<line x1="62.2" y1="805.4" x2="62.2" y2="1042.6" stroke="#7a7a7a" stroke-width="1.6"/>
<line x1="58.2" y1="1038.4" x2="344.4" y2="1038.4" stroke="#111" stroke-width="1.2"/>
<text x="28.1" y="970" font-size="11" fill="#111" textLength="97.7" lengthAdjust="spacingAndGlyphs" transform="rotate(-90 28.1 970)">Intensity&#160;&#160;/ arb. units</text>
<line x1="394.4" y1="1037" x2="394.4" y2="1041.2" stroke="#7a7a7a" stroke-width="1"/>
<text x="394.4" y="1053.2" font-size="11.8" fill="#111" text-anchor="middle" textLength="19.68" lengthAdjust="spacingAndGlyphs">600</text>
<line x1="418.33" y1="1037" x2="418.33" y2="1039.2" stroke="#7a7a7a" stroke-width="1"/>
<line x1="442.26" y1="1037" x2="442.26" y2="1041.2" stroke="#7a7a7a" stroke-width="1"/>
<text x="442.26" y="1053.2" font-size="11.8" fill="#111" text-anchor="middle" textLength="19.68" lengthAdjust="spacingAndGlyphs">800</text>
<line x1="466.19" y1="1037" x2="466.19" y2="1039.2" stroke="#7a7a7a" stroke-width="1"/>
<line x1="490.12" y1="1037" x2="490.12" y2="1041.2" stroke="#7a7a7a" stroke-width="1"/>
<text x="490.12" y="1053.2" font-size="11.8" fill="#111" text-anchor="middle" textLength="26.24" lengthAdjust="spacingAndGlyphs">1000</text>
<line x1="514.05" y1="1037" x2="514.05" y2="1039.2" stroke="#7a7a7a" stroke-width="1"/>
<line x1="537.98" y1="1037" x2="537.98" y2="1041.2" stroke="#7a7a7a" stroke-width="1"/>
<text x="537.98" y="1053.2" font-size="11.8" fill="#111" text-anchor="middle" textLength="26.24" lengthAdjust="spacingAndGlyphs">1200</text>
<line x1="561.91" y1="1037" x2="561.91" y2="1039.2" stroke="#7a7a7a" stroke-width="1"/>
<line x1="585.84" y1="1037" x2="585.84" y2="1041.2" stroke="#7a7a7a" stroke-width="1"/>
<text x="585.84" y="1053.2" font-size="11.8" fill="#111" text-anchor="middle" textLength="26.24" lengthAdjust="spacingAndGlyphs">1400</text>
<line x1="609.77" y1="1037" x2="609.77" y2="1039.2" stroke="#7a7a7a" stroke-width="1"/>
<line x1="633.7" y1="1037" x2="633.7" y2="1041.2" stroke="#7a7a7a" stroke-width="1"/>
<text x="633.7" y="1053.2" font-size="11.8" fill="#111" text-anchor="middle" textLength="26.24" lengthAdjust="spacingAndGlyphs">1600</text>
<line x1="657.63" y1="1037" x2="657.63" y2="1039.2" stroke="#7a7a7a" stroke-width="1"/>
<line x1="390.3" y1="1037.1" x2="394.3" y2="1037.1" stroke="#333" stroke-width="1"/>
<text x="386.6" y="1040.22" font-size="8.9" fill="#222" text-anchor="end" textLength="12.86" lengthAdjust="spacingAndGlyphs">-50</text>
<line x1="392.3" y1="1023.35" x2="394.3" y2="1023.35" stroke="#333" stroke-width="1"/>
<line x1="390.3" y1="1009.6" x2="394.3" y2="1009.6" stroke="#333" stroke-width="1"/>
<text x="386.6" y="1012.72" font-size="8.9" fill="#222" text-anchor="end" textLength="4.95" lengthAdjust="spacingAndGlyphs">0</text>
<line x1="392.3" y1="995.85" x2="394.3" y2="995.85" stroke="#333" stroke-width="1"/>
<line x1="390.3" y1="982.1" x2="394.3" y2="982.1" stroke="#333" stroke-width="1"/>
<text x="386.6" y="985.22" font-size="8.9" fill="#222" text-anchor="end" textLength="9.9" lengthAdjust="spacingAndGlyphs">50</text>
<line x1="392.3" y1="968.35" x2="394.3" y2="968.35" stroke="#333" stroke-width="1"/>
<line x1="390.3" y1="954.6" x2="394.3" y2="954.6" stroke="#333" stroke-width="1"/>
<text x="386.6" y="957.72" font-size="8.9" fill="#222" text-anchor="end" textLength="14.85" lengthAdjust="spacingAndGlyphs">100</text>
<line x1="392.3" y1="940.85" x2="394.3" y2="940.85" stroke="#333" stroke-width="1"/>
<line x1="390.3" y1="927.1" x2="394.3" y2="927.1" stroke="#333" stroke-width="1"/>
<text x="386.6" y="930.22" font-size="8.9" fill="#222" text-anchor="end" textLength="14.85" lengthAdjust="spacingAndGlyphs">150</text>
<line x1="392.3" y1="913.35" x2="394.3" y2="913.35" stroke="#333" stroke-width="1"/>
<line x1="390.3" y1="899.6" x2="394.3" y2="899.6" stroke="#333" stroke-width="1"/>
<text x="386.6" y="902.72" font-size="8.9" fill="#222" text-anchor="end" textLength="14.85" lengthAdjust="spacingAndGlyphs">200</text>
<line x1="392.3" y1="885.85" x2="394.3" y2="885.85" stroke="#333" stroke-width="1"/>
<line x1="390.3" y1="872.1" x2="394.3" y2="872.1" stroke="#333" stroke-width="1"/>
<text x="386.6" y="875.22" font-size="8.9" fill="#222" text-anchor="end" textLength="14.85" lengthAdjust="spacingAndGlyphs">250</text>
<line x1="392.3" y1="858.35" x2="394.3" y2="858.35" stroke="#333" stroke-width="1"/>
<line x1="390.3" y1="844.6" x2="394.3" y2="844.6" stroke="#333" stroke-width="1"/>
<text x="386.6" y="847.72" font-size="8.9" fill="#222" text-anchor="end" textLength="14.85" lengthAdjust="spacingAndGlyphs">300</text>
<line x1="392.3" y1="830.85" x2="394.3" y2="830.85" stroke="#333" stroke-width="1"/>
<line x1="390.3" y1="817.1" x2="394.3" y2="817.1" stroke="#333" stroke-width="1"/>
<text x="386.6" y="820.22" font-size="8.9" fill="#222" text-anchor="end" textLength="14.85" lengthAdjust="spacingAndGlyphs">350</text>
<line x1="392.3" y1="803.35" x2="394.3" y2="803.35" stroke="#333" stroke-width="1"/>
<line x1="394.3" y1="803.4" x2="394.3" y2="1041.2" stroke="#333" stroke-width="1.2"/>
<line x1="390.3" y1="1037" x2="676.5" y2="1037" stroke="#7a7a7a" stroke-width="1.7"/>
<text x="360.6" y="968.6" font-size="11" fill="#111" textLength="98" lengthAdjust="spacingAndGlyphs" transform="rotate(-90 360.6 968.6)">Intensity&#160;&#160;/ arb. units</text>
<text x="153.1" y="1069" font-size="12.2" fill="#111" textLength="68.3" lengthAdjust="spacingAndGlyphs">Raman shift</text>
<text x="229.6" y="1069" font-size="12.2" fill="#111">/</text>
<text x="241.1" y="1069" font-size="12.2" fill="#111" textLength="16.3" lengthAdjust="spacingAndGlyphs">cm</text>
<text x="257.7" y="1063.7" font-size="7.8" fill="#111" textLength="7.5" lengthAdjust="spacingAndGlyphs">-1</text>
<text x="485.3" y="1067.5" font-size="12.2" fill="#111" textLength="68.7" lengthAdjust="spacingAndGlyphs">Raman shift</text>
<text x="561.8" y="1067.5" font-size="12.2" fill="#111">/</text>
<text x="573.4" y="1067.5" font-size="12.2" fill="#111" textLength="18" lengthAdjust="spacingAndGlyphs">cm</text>
<text x="591.7" y="1062.2" font-size="7.8" fill="#111" textLength="6.5" lengthAdjust="spacingAndGlyphs">-1</text>
<path d="M60.8,736.1 L62,729.3 L63.1,733.9 L64.2,732.7 L65.3,735 L66.5,718.1 L67.9,739.5 L69.3,745.1 L70.4,737.2 L71.25,724.98 L72.1,713 L73.2,733.9 L74.7,748.5 L76.1,735 L77.1,729.51 L78.1,723.7 L79.4,735 L80.25,739.5 L81.1,741.8 L82.6,731.6 L84,736.1 L84.85,733.21 L85.7,730.5 L87.3,722.6 L88.35,716.12 L89.4,709.6 L90.35,713.48 L91.3,716.9 L92.15,717.78 L93,720.3 L93.85,719.23 L94.7,718.1 L95.55,718.99 L96.4,719.2 L97.7,726 L99.2,721.4 L100.35,726.71 L101.5,730.5 L103.1,747.4 L104.3,755.3 L105.15,750.84 L106,748.5 L106.85,747.44 L107.7,747.4 L108.55,740.83 L109.4,735 L110.5,749.7 L111.35,744.33 L112.2,738.4 L113.3,732.92 L114.4,727.1 L115.25,723.04 L116.1,719.8 L117.25,726.68 L118.4,732.7 L119.5,724.12 L120.6,714.7 L121.75,704.99 L122.9,695 L123.75,702.1 L124.6,709 L125.7,707.59 L126.8,706.8 L127.95,709.16 L129.1,712.4 L130.25,713.58 L131.4,714.7 L132.25,712.05 L133.1,710.2 L133.95,711.42 L134.8,713.2 L135.65,709.57 L136.5,706.4 L137.35,699.23 L138.2,692.9 L139.35,684.42 L140.5,676 L141.35,670.85 L142.2,665.8 L143.05,672.86 L143.9,679.3 L145.3,690.6 L146.7,687.2 L147.55,688.92 L148.4,690.6 L149.25,694.13 L150.1,697.4 L151.1,707.55 L152.1,717.7 L153.05,717.3 L154,716.6 L155.1,720 L156.3,695.1 L157.1,650 L157.7,612 L158.3,650 L159.1,683.9 L159.95,700.76 L160.8,717.7 L162.2,729 L163.2,720.9 L164.2,713.2 L165.05,708.55 L165.9,703 L166.75,705.15 L167.6,706.4 L169.2,715.5 L170.05,707.91 L170.9,699.7 L172.1,717.7 L172.95,717.34 L173.8,716.6 L174.65,712.48 L175.5,708.7 L177.1,701.9 L178.25,702.21 L179.4,703 L180.55,703.96 L181.7,705.3 L182.55,706.61 L183.4,708.7 L184.8,721.1 L186.2,711 L187.05,714.59 L187.9,717.7 L188.75,723.26 L189.6,729 L190.45,742.31 L191.3,755 L192.15,750.35 L193,745.9 L194.1,744.61 L195.2,742.5 L196.3,743.7 L197.15,734.41 L198,724.5 L198.85,728.55 L199.7,733.5 L200.55,735.49 L201.4,738 L202.55,740.62 L203.7,742.5 L204.55,731.22 L205.4,720 L206.9,705.1 L208.3,703.3 L209.9,699.7 L211.5,675.3 L212.57,666.43 L213.63,656.61 L214.7,647.4 L215.9,638.67 L217.1,630.7 L218.05,628.97 L219,627 L219.9,630.5 L220.8,633.5 L221.73,638.56 L222.67,643.66 L223.6,649.3 L224.53,654.12 L225.47,659.65 L226.4,664.2 L227.33,658.83 L228.27,652.66 L229.2,647.4 L230.13,645.01 L231.07,642.71 L232,640.9 L233.2,642.85 L234.4,645.6 L235.35,643.07 L236.3,640 L237.2,636.91 L238.1,634.4 L239.4,649.35 L240.7,664.2 L241.9,677.15 L243.1,690.2 L244.03,694.89 L244.97,700.34 L245.9,705.1 L247.05,706.62 L248.2,708.8 L249.4,704.78 L250.6,700.5 L251.53,701.69 L252.47,703.5 L253.4,705.1 L254.5,699.87 L255.6,694.96 L256.7,690.2 L257.85,681.32 L259,671.6 L259.9,653.27 L260.8,634.4 L261.75,612.02 L262.7,590 L264.1,572 L265.25,586.35 L266.4,600 L267.35,627.24 L268.3,655 L269.2,677.4 L270.1,700 L271.2,714.02 L272.3,727.4 L273.3,733.13 L274.3,738.24 L275.3,744.2 L276.25,745.98 L277.2,746 L278.3,743.18 L279.4,741.4 L280.33,740.03 L281.27,740.02 L282.2,738.6 L283.13,736.76 L284.07,735.17 L285,734 L286.07,729.8 L287.13,726.4 L288.2,723.7 L289.3,724.95 L290.4,725.9 L291.55,724.34 L292.7,723.7 L294.2,728.2 L295.6,719.2 L296.75,719.38 L297.9,719.2 L299,711.52 L300.1,704.3 L301.6,696.9 L303.1,716.2 L304.6,704.3 L305.55,708.72 L306.5,713.3 L307.4,706.68 L308.3,698.4 L309.45,687.92 L310.6,677.5 L311.7,656.32 L312.8,635 L314.3,620 L315.15,626.33 L316,632 L317.35,655.96 L318.7,680.5 L319.85,692.44 L321,705 L322.23,716.57 L323.47,728.23 L324.7,738.6 L325.8,746.15 L326.9,755 L328.4,741.6 L329.9,753.5 L331.4,746 L332.9,750.5 L334,751.19 L335.1,753.5 L336.25,750.37 L337.4,746 L338.9,749 L340.4,738.6 L341.8,740.1" fill="none" stroke="#000" stroke-width="1.85" stroke-linejoin="round" stroke-linecap="round"/>
<path d="M60.8,738.9 L61.65,739.33 L62.5,742.3 L63.35,742.69 L64.2,745.1 L65.3,739.5 L66.8,726 L68.2,746.3 L69.3,752.5 L70.4,747.4 L71.8,728.2 L73.2,739.5 L74.7,745.1 L76.1,736.1 L77.2,731.6 L78.5,736.1 L80,743.5 L80.85,744.87 L81.7,746.8 L82.55,744.78 L83.4,741.8 L84.25,739.16 L85.1,738.4 L86.1,735.14 L87.1,733.9 L88.05,724.15 L89,715.8 L89.85,718.72 L90.7,720.3 L91.9,722.6 L92.75,722.78 L93.6,724.8 L94.55,719.23 L95.5,712.4 L96.9,716.9 L98,719.8 L99.2,715.8 L100.35,723.57 L101.5,730.5 L103.1,745.1 L103.95,747.56 L104.8,751.9 L105.65,752.54 L106.5,753 L107.65,754.01 L108.8,755.3 L109.65,754.37 L110.5,753.6 L111.35,748.7 L112.2,742.9 L113.3,734.63 L114.4,727.1 L115.25,723.02 L116.1,719.8 L117.3,724.8 L118.15,727.45 L119,729.3 L120.6,713.5 L121.45,703.91 L122.3,694.5 L123.45,701.23 L124.6,708.5 L125.45,709.6 L126.3,711 L127.4,704.5 L128.55,706.63 L129.7,709 L130.65,708.66 L131.6,707.5 L132.5,703.4 L133.4,703.54 L134.3,704.2 L135.4,700.55 L136.5,697.4 L137.65,690.13 L138.8,682.7 L139.65,679.39 L140.5,676 L141.9,669.8 L143.3,677.1 L144.15,682.01 L145,686.1 L145.85,683.3 L146.7,679.9 L147.55,680.62 L148.4,681.6 L149.25,684.13 L150.1,687.2 L150.95,693.15 L151.8,698.5 L153.2,707.6 L154.6,703 L155.7,699.7 L156.6,680 L157.2,630 L157.7,592 L158.2,630 L158.8,680 L159.4,695 L160.8,717.7 L162.2,729 L163.6,717.7 L164.7,698.5 L165.9,706.4 L167,707.44 L168.1,707.6 L168.95,708.83 L169.8,710.9 L170.65,710.01 L171.5,708.7 L172.65,706.78 L173.8,704.2 L174.65,700.94 L175.5,697.4 L177.1,698.5 L177.95,698.85 L178.8,699.7 L179.65,698.27 L180.5,696.3 L181.35,697.06 L182.2,697.4 L183.05,701.07 L183.9,705.3 L184.75,702.03 L185.6,698.5 L186.7,693.5 L187.9,700.8 L188.75,714.65 L189.6,729 L190.45,739.89 L191.3,751.6 L192.15,746.9 L193,742.5 L194.6,733.5 L195.45,735.6 L196.3,738 L197.15,731.16 L198,724.5 L198.85,726.88 L199.7,729 L200.55,732.7 L201.4,735.8 L202.25,738.32 L203.1,740 L204.25,726.48 L205.4,712.1 L206.5,695.1 L207.35,694.44 L208.2,692.9 L209.05,690.91 L209.9,688.4 L211.5,667.9 L212.43,659.06 L213.37,650.28 L214.3,641.9 L215.23,635.81 L216.17,629.54 L217.1,623.3 L218.3,622.06 L219.5,620.5 L220.57,626 L221.63,631.96 L222.7,638.1 L223.73,644.68 L224.77,650.59 L225.8,656.7 L226.8,651.31 L227.8,645.2 L228.8,640 L229.9,638.06 L231,636.3 L231.95,635.27 L232.9,633.5 L233.85,635.93 L234.8,638.1 L235.7,635.79 L236.6,632.6 L238.1,628.8 L239.2,642.48 L240.3,656.7 L241.25,668.76 L242.2,680.9 L243.13,688 L244.07,694.52 L245,701.4 L246.2,707.26 L247.4,712.6 L248.47,708.92 L249.53,704.79 L250.6,701.4 L251.63,704.44 L252.67,708.63 L253.7,711.6 L254.7,705.39 L255.7,699.59 L256.7,694 L257.85,682.65 L259,671.6 L259.9,653.19 L260.8,634.4 L261.75,611.47 L262.7,587.9 L264.1,567.8 L265.25,582.48 L266.4,597.2 L267.35,625.1 L268.3,653 L269.2,676.51 L270.1,699.5 L271.2,716.05 L272.3,733 L273.3,737.85 L274.3,743.03 L275.3,747.9 L276.6,753.5 L277.53,751.25 L278.47,747.67 L279.4,746 L280.33,743.77 L281.27,742.28 L282.2,741.4 L283.13,739.94 L284.07,738.01 L285,735.8 L286,729.7 L287.5,709.5 L288.2,716.2 L289.2,716.59 L290.2,715.75 L291.2,714.8 L292.2,712.86 L293.2,712.28 L294.2,710.3 L295.3,708.57 L296.4,705.1 L297.5,707.43 L298.6,710.3 L299.75,700.47 L300.9,692.4 L302.4,696.9 L303.8,693.1 L304.95,697.73 L306.1,702.8 L307.2,698.71 L308.3,695.4 L309.45,684.37 L310.6,674.5 L311.7,653.24 L312.8,632.8 L314.3,617.9 L315.8,629.8 L316.9,642.86 L318,656.6 L319.1,670.38 L320.2,683.5 L321.35,697.99 L322.5,713.3 L323.6,727 L324.7,740.1 L325.8,744.54 L326.9,750.5 L328.17,750.2 L329.43,752.33 L330.7,752 L331.8,751.68 L332.9,751.58 L334,752.48 L335.1,752.8 L336.23,753.11 L337.35,752.46 L338.48,753.14 L339.6,752 L340.6,751.51 L341.6,751.6 L342.6,751.3" fill="none" stroke="#ff0000" stroke-width="1.85" stroke-linejoin="round" stroke-linecap="round"/>
<path d="M394.3,730.8 L395.4,722.9 L396.25,723.93 L397.1,725.1 L398.5,722.9 L400.1,706 L401.6,722.9 L402.7,734.2 L404.2,722.9 L405.5,706 L406.7,727.4 L407.55,732.31 L408.4,736.4 L409.8,722.9 L411.4,716.1 L412.9,726.3 L414,730.8 L414.85,732.33 L415.7,733 L416.55,731.52 L417.4,731.9 L418.55,724.43 L419.7,719.5 L420.65,716.37 L421.6,713.9 L422.5,711.01 L423.4,709.3 L424.7,713.9 L425.55,716.36 L426.4,717.2 L427.9,717.2 L429.2,709.3 L430.6,717.2 L432.1,709.3 L432.95,718.85 L433.8,727.4 L434.73,734.8 L435.67,741.82 L436.6,748.8 L437.53,748.49 L438.47,746.41 L439.4,746.6 L441,752 L442.2,759 L443.35,754.45 L444.5,750 L445.35,745.2 L446.2,741 L447.3,733.37 L448.4,725 L449.6,716 L450.45,719.1 L451.3,723 L452.9,728 L453.75,717.79 L454.6,707 L455.75,698.12 L456.9,690 L458,704 L459.2,707.1 L460.15,702.22 L461.1,697 L462.1,701.9 L463.1,707.1 L464.25,704.76 L465.4,702.6 L466.5,703.46 L467.6,703.7 L468.75,701.02 L469.9,699.2 L470.75,692.6 L471.6,686.8 L473,678 L474.25,672.12 L475.5,665.5 L476.6,670.26 L477.7,675 L478.67,675.93 L479.63,678.04 L480.6,678.9 L481.85,684.85 L483.1,690 L484.35,696.65 L485.6,704 L486.45,701.93 L487.3,700 L488.9,694 L490.1,660 L491.1,594 L491.8,594 L492.8,647 L494,697 L495.1,710.22 L496.2,724.1 L497.2,717.88 L498.2,712 L499.3,708.34 L500.4,704.16 L501.5,700.7 L502.75,705.88 L504,710.7 L505.25,706.95 L506.5,704 L507.63,701.47 L508.77,699.82 L509.9,697.3 L511.2,698.56 L512.5,700 L513.7,700.28 L514.9,700.7 L515.93,704.69 L516.97,708.48 L518,712.4 L518.93,708.16 L519.87,703.71 L520.8,700 L521.65,711.45 L522.5,722.5 L523.75,740.47 L525,757.6 L525.85,748.23 L526.7,738 L527.7,734.15 L528.7,730 L530,741 L531.25,731.62 L532.5,722.5 L533.6,728.23 L534.7,734.2 L535.7,740.22 L536.7,745.9 L537.55,735.16 L538.4,724.1 L539.25,710.35 L540.1,697.3 L541.7,700.7 L542.8,689.53 L543.9,678.71 L545,667.9 L546.23,655.51 L547.47,643.38 L548.7,630.7 L549.63,628.23 L550.57,625.34 L551.5,623.3 L552.45,624.49 L553.4,625.1 L554.7,634.99 L556,645 L557.2,651.82 L558.4,658.6 L559.7,651.05 L561,644 L562,641.93 L563,640 L564.25,637.1 L565.5,634.4 L566.75,637.44 L568,640 L569.13,636.24 L570.27,633.24 L571.4,629.8 L572.45,639.61 L573.5,650 L574.75,662.68 L576,675 L577.25,685.93 L578.5,697.7 L579.73,700.6 L580.97,703.76 L582.2,707 L583.3,701.97 L584.4,696.7 L585.4,698.5 L586.4,701.06 L587.4,703.3 L588.45,696.39 L589.5,690 L590.5,680.6 L591.5,671.6 L592.6,654.83 L593.7,638.1 L594.65,618.06 L595.6,597.2 L596.65,583.58 L597.7,570 L598.8,588.66 L599.9,606.5 L600.8,626.65 L601.7,647.4 L602.65,671.08 L603.6,694 L604.55,712.48 L605.5,731.2 L606.43,735.52 L607.37,740.62 L608.3,745 L609.2,748.67 L610.1,751.6 L611.03,748.51 L611.97,746.78 L612.9,745 L613.83,743.99 L614.77,741.72 L615.7,740.5 L616.93,738.17 L618.17,735.88 L619.4,734.9 L620.35,724.77 L621.3,716.3 L622.23,717.75 L623.17,719.64 L624.1,720 L625.4,722.7 L626.47,720.76 L627.53,717.04 L628.6,714.2 L629.67,714.78 L630.73,716.75 L631.8,718.5 L632.87,709.72 L633.93,700.5 L635,690.6 L636.05,698.35 L637.1,705.6 L638.2,698.71 L639.3,692.8 L640.35,699.25 L641.4,705.6 L642.5,685.26 L643.6,665 L644.65,650.23 L645.7,635 L646.55,630.49 L647.4,626.4 L648.7,634.3 L650,641.4 L651.07,654.59 L652.13,666.76 L653.2,679.9 L654.27,691.15 L655.33,703.1 L656.4,714.2 L657.47,721.83 L658.53,731.02 L659.6,737.7 L660.67,739.17 L661.73,741.08 L662.8,742 L663.87,746.1 L664.93,748.39 L666,752.7 L667.1,750.71 L668.2,749.2 L669.3,748.4 L670.37,753.18 L671.43,757.5 L672.5,761.3 L673.85,754.99 L675.2,750.6 L676.7,755" fill="none" stroke="#000" stroke-width="1.85" stroke-linejoin="round" stroke-linecap="round"/>
<path d="M394.3,739.8 L395.4,733 L396.5,739.8 L397.6,731.9 L398.8,727.4 L399.65,720.65 L400.5,716.1 L401.9,750 L403.3,738.7 L404.3,724.96 L405.3,712.7 L406.4,728.5 L407.6,747.7 L408.9,731.9 L409.75,727.99 L410.6,725.1 L412.1,727.4 L412.9,746.6 L414,728.5 L415.1,748.8 L416.3,733 L417.7,735.3 L418.9,743.2 L420.2,727.4 L421.6,719.5 L423,709.3 L423.85,707.54 L424.7,703.7 L425.9,717.2 L427,725.1 L427.85,720.04 L428.7,715 L430.1,721.8 L431.5,712.7 L432.35,717.82 L433.2,721.8 L434.05,728.06 L434.9,736.4 L435.75,743.22 L436.6,750 L437.45,750.29 L438.3,748.8 L439.15,750.56 L440,752.2 L440.85,753.36 L441.7,752.2 L442.8,759 L443.65,755.94 L444.5,752.2 L445.35,747.58 L446.2,743.2 L447.3,734.85 L448.4,727.4 L449.6,718.4 L450.45,721.98 L451.3,725.1 L452.9,729.7 L453.75,718.61 L454.6,708.2 L455.8,688.5 L457.2,702.6 L458.2,707.21 L459.2,712.7 L460.8,702.6 L461.95,708.46 L463.1,713.9 L464.25,713.06 L465.4,711.6 L466.5,710.75 L467.6,709.3 L468.75,709.16 L469.9,708.2 L470.75,700.58 L471.6,693.5 L473,680.6 L474.25,674.32 L475.5,668.8 L476.6,674.36 L477.7,680.6 L478.55,686.03 L479.4,690.6 L480.25,686.9 L481.1,683.9 L482.1,688.64 L483.1,694 L484.35,700.27 L485.6,707.4 L486.45,709.49 L487.3,712.4 L488.9,707.4 L490.1,663.8 L491.1,601.8 L491.6,598 L492.3,620 L492.8,647 L494,697.3 L495.1,711.13 L496.2,725.8 L497.2,718.97 L498.2,712.4 L499.45,702.9 L500.7,694 L501.8,700.53 L502.9,707.4 L503.9,706.09 L504.9,704 L506.15,702.85 L507.4,702.3 L508.5,698.43 L509.6,694 L510.6,695.86 L511.6,697.3 L512.85,695.71 L514.1,694 L515.35,699.07 L516.6,704 L517.45,707.59 L518.3,710.7 L519.55,704.08 L520.8,697.3 L521.65,709.66 L522.5,722.5 L523.55,734.9 L524.6,747.6 L525.65,740.67 L526.7,734.2 L527.7,730.76 L528.7,727.5 L530.3,739.2 L531.4,731.29 L532.5,722.5 L533.6,728.28 L534.7,734.2 L535.7,739.66 L536.7,745.9 L537.55,734.98 L538.4,724.1 L539.25,710.98 L540.1,697.3 L541.7,700.7 L543,688.9 L544.3,677.2 L545.55,663.98 L546.8,650.4 L547.95,642.03 L549.1,634.4 L550.3,631.21 L551.5,628.8 L552.45,630.85 L553.4,632.6 L554.6,638.69 L555.8,645.6 L557.1,652.87 L558.4,660.5 L559.35,658.5 L560.3,656.7 L561.4,625.1 L562.7,645.6 L564.2,628.8 L565.5,643.7 L566.4,640.62 L567.3,638.1 L568.25,640.48 L569.2,643.7 L570.3,636.76 L571.4,630.7 L572.9,636.3 L573.85,650.66 L574.8,664.2 L575.7,677.37 L576.6,690.2 L577.53,696.81 L578.47,702.59 L579.4,708.8 L580.6,713.86 L581.8,718.1 L582.95,711.03 L584.1,703.3 L585.2,707.11 L586.3,710.7 L587.5,702.37 L588.7,694 L589.63,686.54 L590.57,678.82 L591.5,671.6 L592.6,654.74 L593.7,638.1 L594.65,617.85 L595.6,597.2 L596.65,582.98 L597.7,569.3 L598.8,588.21 L599.9,606.5 L600.8,626.96 L601.7,647.4 L602.65,670.79 L603.6,694 L604.55,712.89 L605.5,731.2 L606.43,736.9 L607.37,742.01 L608.3,747.9 L609.2,750.92 L610.1,754.4 L611.03,751.34 L611.97,749.22 L612.9,747.9 L613.83,747.48 L614.77,745.6 L615.7,744.2 L616.63,743.48 L617.57,741.57 L618.5,739.5 L619.43,733.9 L620.37,729.81 L621.3,723.7 L622.23,727.56 L623.17,729.82 L624.1,733 L625.23,730.25 L626.37,728.67 L627.5,727 L628.55,720 L629.6,714.2 L630.7,718.21 L631.8,722.7 L632.73,714.12 L633.67,707.42 L634.6,699.2 L635.65,707.56 L636.7,714.2 L637.75,707.23 L638.8,701.3 L639.9,708.25 L641,714.2 L642.3,690.8 L643.6,667.1 L644.65,651.02 L645.7,635 L646.75,628.92 L647.8,622.1 L648.9,631.64 L650,641.4 L651.07,654.52 L652.13,666.65 L653.2,679.9 L654.13,690.32 L655.07,699.61 L656,709.9 L657.25,724.45 L658.5,739.9 L659.6,747.29 L660.7,752.7 L661.75,750.08 L662.8,746.3 L663.9,753.15 L665,759.1 L666.05,754.44 L667.1,748.4 L668.2,752.38 L669.3,757 L670.35,748.5 L671.4,742 L672.45,747.98 L673.5,754.9 L674.35,749.63 L675.2,742 L676.7,752.7" fill="none" stroke="#ff8000" stroke-width="1.85" stroke-linejoin="round" stroke-linecap="round"/>
<path d="M62.3,1007.7 L63.15,1005.37 L64,1004.3 L65.6,1006.6 L67,1003.2 L68.1,985 L69.6,1000 L70.7,1014.5 L72.2,1007.7 L73.5,980 L74.9,996 L75.8,1010 L76.95,1006.98 L78.1,1003 L79.1,1000.23 L80.1,996.5 L81.7,1006 L83.1,1007.7 L83.95,1005.76 L84.8,1002 L85.95,1000.08 L87.1,999.8 L87.95,994.2 L88.8,990 L89.65,981.58 L90.5,975 L91.6,969.49 L92.7,965.4 L93.9,981 L95,987.5 L95.85,982.86 L96.7,977 L97.55,975.04 L98.4,975 L99.5,979 L100.9,973 L101.8,978.58 L102.7,984 L103.65,995.11 L104.6,1007.7 L105.53,1009.07 L106.47,1011.32 L107.4,1013.4 L108.53,1015.78 L109.67,1016.68 L110.8,1017.9 L111.9,1014.01 L113,1011 L114.15,1005.8 L115.3,1001 L116.4,980 L117.8,968 L119.3,976 L120.4,982.9 L121.25,973.13 L122.1,964 L122.95,955.33 L123.8,946 L125.2,955 L126.45,961.33 L127.7,967.1 L128.8,958 L129.95,960.78 L131.1,963 L132.25,959.29 L133.4,955 L135,950 L136.2,941.1 L137.7,954 L139,943.72 L140.3,933 L141.65,925.7 L143,917.6 L144.15,925.06 L145.3,932 L146.15,934.28 L147,937 L147.9,935.31 L148.8,933 L149.85,937.99 L150.9,943 L152.25,948.23 L153.6,953 L154.5,955.26 L155.4,957.4 L156.25,956.64 L157.1,956 L158.4,918.5 L159.2,870 L159.8,870 L160.7,918.5 L161.9,960 L162.8,970.13 L163.7,980.5 L164.55,970.69 L165.4,961 L166.55,953.73 L167.7,946.8 L169,948 L170.4,954 L171.3,957.66 L172.2,962 L173.5,959.79 L174.8,957 L176.15,953.27 L177.5,949 L178.55,950.44 L179.6,951 L180.5,953.17 L181.4,955 L182.55,956.55 L183.7,958 L184.85,963.22 L186,968 L187.05,959.17 L188.1,951 L189.15,961.66 L190.2,972 L191.35,989.45 L192.5,1007 L193.85,997.71 L195.2,989 L196.25,992.23 L197.3,996 L198.45,989.02 L199.6,982 L200.75,986.78 L201.9,992 L203.15,993.96 L204.4,996 L205.55,981.59 L206.7,967 L207.6,961.26 L208.5,955.7 L209.65,958.02 L210.8,961 L211.85,949.49 L212.9,938 L213.95,928.76 L215,920 L216.2,912.26 L217.4,905 L218.55,899.88 L219.7,895.3 L220.6,896.03 L221.5,897 L222.75,903.12 L224,910 L225.03,914.47 L226.07,919.07 L227.1,923 L228.3,915.4 L229.5,908 L230.45,902.7 L231.4,897 L232.6,896.09 L233.8,894.4 L234.75,895.79 L235.7,898 L237,903 L238.2,898.38 L239.4,894.4 L240.35,904.98 L241.3,915 L242.4,932.9 L243.5,950.2 L244.43,956.53 L245.37,962.29 L246.3,968.8 L247.23,972.46 L248.17,976.6 L249.1,980 L250.03,977.25 L250.97,974.07 L251.9,970.7 L252.83,969.8 L253.77,969.75 L254.7,968.8 L255.8,970.59 L256.9,972.6 L258.1,959.74 L259.3,946.5 L260.25,924.77 L261.2,903.7 L262.1,880.87 L263,857.2 L264.15,844.29 L265.3,831.2 L266.3,844.4 L267.3,857.2 L268.4,880.19 L269.5,903.7 L270.65,927.06 L271.8,950.2 L273,968.87 L274.2,987.4 L275.13,994.32 L276.07,1000.94 L277,1007.9 L278.1,1011.36 L279.2,1014 L280.4,1009.71 L281.6,1006 L282.53,1004.63 L283.47,1003.4 L284.4,1003 L285.43,998.33 L286.47,992.3 L287.5,988 L288.5,981.81 L289.5,976.6 L290.85,976.27 L292.2,977.5 L293.2,980.86 L294.2,983.7 L295.25,980.95 L296.3,978 L297.3,975.91 L298.3,972.84 L299.3,971.5 L300.15,966.64 L301,962 L302,957.22 L303,953 L304.25,956.37 L305.5,961.2 L307.1,953 L308.35,956.21 L309.6,961.2 L311,925 L312,908.4 L313,890 L314.15,876.16 L315.3,863 L316.5,875.32 L317.7,888 L318.95,905.79 L320.2,924 L321.55,941.09 L322.9,958 L323.9,969.95 L324.9,982.64 L325.9,995 L327.15,998.25 L328.4,1002.2 L329.63,1004.34 L330.87,1003.45 L332.1,1006 L333.1,1006.24 L334.1,1007.32 L335.1,1008 L336.07,1009.89 L337.03,1009.38 L338,1010 L339,1010.63 L340,1011.4 L341.1,1012.17 L342.2,1011.54 L343.3,1012.4" fill="none" stroke="#000" stroke-width="1.85" stroke-linejoin="round" stroke-linecap="round"/>
<path d="M62.3,1001 L63.15,1001.43 L64,1001.5 L65.6,1002.6 L67,998.7 L68.1,983.5 L69.6,998.7 L70.7,1012.2 L72.2,1001 L73.5,978.4 L74.9,994.2 L76.4,1007.7 L77.25,1004.94 L78.1,1001.5 L79.1,998.92 L80.1,994.7 L81.7,1004.3 L83.1,999.8 L83.95,998.67 L84.8,998.7 L85.95,997.94 L87.1,996.4 L87.95,992.92 L88.8,987.4 L89.65,981.11 L90.5,972.7 L91.35,971.33 L92.2,971.6 L93.05,976.49 L93.9,980.6 L95,986.3 L95.85,981.5 L96.7,976.1 L97.55,975.01 L98.4,973.9 L99.5,978.4 L100.9,971.6 L101.8,978.46 L102.7,982.9 L103.65,992.57 L104.6,1002.1 L105.45,1004.21 L106.3,1006.6 L107.4,1008.85 L108.5,1008.8 L109.65,1010.85 L110.8,1012.2 L111.9,1009.77 L113,1007.7 L114.15,1003.03 L115.3,998.7 L116.4,978.4 L117.8,966.5 L119.3,973.9 L120.7,981.8 L122.1,962.6 L122.95,953.55 L123.8,944.5 L125.2,953.5 L126.2,958.75 L127.2,964.8 L128.8,956.9 L129.95,959.85 L131.1,962.6 L132.25,958.86 L133.4,954.7 L134.25,953.48 L135.1,952.4 L136.4,954.76 L137.7,956.5 L139,946.74 L140.3,936.2 L141.65,928.3 L143,920.3 L144.15,927.51 L145.3,934.4 L146.15,936.71 L147,939.7 L147.9,937.55 L148.8,936.2 L149.85,941.93 L150.9,946.8 L152.25,951.91 L153.6,957.4 L154.5,960.69 L155.4,964.5 L156.25,963.11 L157.1,961 L158.4,918.5 L159.2,853 L159.8,853 L160.7,918.5 L161.9,962.7 L162.8,972.67 L163.7,982.2 L164.55,973.01 L165.4,964.5 L166.3,958.14 L167.2,952.1 L168.1,951.02 L169,950.4 L170.4,957.4 L171.3,961.65 L172.2,966.3 L173.5,963.21 L174.8,961 L176.15,956.57 L177.5,952.1 L178.55,953.72 L179.6,955.7 L180.5,957.35 L181.4,959.2 L182.55,960.67 L183.7,962.7 L184.85,967.7 L186,973.4 L187.05,963.23 L188.1,953.9 L189.15,965.74 L190.2,976.9 L191.35,993.92 L192.5,1010.5 L193.85,1001.7 L195.2,992.8 L196.25,996.01 L197.3,999.9 L198.45,992.53 L199.6,985.8 L200.75,990.76 L201.9,996.4 L203.15,997.98 L204.4,999.9 L205.55,985.35 L206.7,971.6 L207.6,965.2 L208.5,959.2 L209.65,962.48 L210.8,966.3 L211.85,954.52 L212.9,943.3 L213.95,934.59 L215,925.6 L216.2,917.41 L217.4,909.3 L218.55,904.63 L219.7,900 L220.6,900.82 L221.5,901.9 L222.75,907.49 L224,913 L225.03,917.29 L226.07,920.89 L227.1,925.1 L228.3,917.76 L229.5,911.2 L230.45,905.58 L231.4,900 L232.6,898.94 L233.8,898.1 L234.75,900.25 L235.7,901.9 L237,905.6 L238.2,900.6 L239.4,896.3 L240.35,906.84 L241.3,916.7 L242.4,933.01 L243.5,950.2 L244.43,956.44 L245.37,962.55 L246.3,968.8 L247.23,972.37 L248.17,976.62 L249.1,980 L250.03,977.08 L250.97,973.5 L251.9,970.7 L252.83,970.06 L253.77,969.53 L254.7,968.8 L255.8,970.28 L256.9,972.6 L258.1,959.18 L259.3,946.5 L260.25,925.19 L261.2,903.7 L262.1,880.66 L263,857.2 L264.15,844.17 L265.3,831.2 L266.3,844.13 L267.3,857.2 L268.4,880.46 L269.5,903.7 L270.65,926.73 L271.8,950.2 L273,969.14 L274.2,987.4 L275.13,994.65 L276.07,1001.05 L277,1007.9 L278.1,1009.39 L279.2,1012.6 L280.4,1009.11 L281.6,1006 L282.53,1005.95 L283.47,1004.48 L284.4,1004.2 L285.43,999.39 L286.47,995.43 L287.5,991.9 L288.5,987.18 L289.5,981.7 L290.85,982.92 L292.2,983.7 L293.2,986.42 L294.2,989.9 L295.25,987.02 L296.3,983.7 L297.3,982.12 L298.3,979.6 L299.35,983.54 L300.4,985.8 L301.4,977.2 L302.4,967.4 L303.4,964.18 L304.4,961.2 L305.45,966.91 L306.5,971.5 L307.5,968.17 L308.5,963.3 L309.55,943.46 L310.6,922.3 L311.6,907.4 L312.6,891.6 L313.95,880.43 L315.3,869.1 L316.5,880.36 L317.7,891.6 L318.95,909.32 L320.2,926.4 L321.55,942.91 L322.9,959.2 L323.9,971 L324.9,982.16 L325.9,994 L327.15,1000.09 L328.4,1008.3 L329.63,1008.37 L330.87,1009.85 L332.1,1010.3 L333.1,1010.86 L334.1,1010.25 L335.1,1011.4 L336.3,1009.89 L337.5,1010 L338.8,991.9 L339.9,1011.4 L341.1,1009.97 L342.3,1006.2 L343.35,1007.14 L344.4,1010.3" fill="none" stroke="#00f000" stroke-width="1.85" stroke-linejoin="round" stroke-linecap="round"/>
<path d="M394.3,1002.1 L395.4,995.3 L396.25,995.98 L397.1,998.7 L397.95,997.53 L398.8,995.3 L400.1,987.4 L400.8,967.5 L401.6,985 L402.45,991.1 L403.3,996.4 L404.15,994.34 L405,990 L406.5,995 L407.7,993.4 L408.9,993 L410.1,987.4 L411.05,989.07 L412,992 L413.3,992.01 L414.6,990.8 L415.55,992.81 L416.5,994 L418,991.9 L419,988.44 L420,986 L421.3,982.9 L422.7,966 L424.2,963.7 L425.3,970.5 L426.15,972.08 L427,972.7 L428.2,967 L429.2,963.7 L430.05,966.23 L430.9,969.3 L431.75,967.22 L432.6,963.7 L433.45,969.46 L434.3,977.2 L435.15,982.13 L436,988.5 L436.85,996.89 L437.7,1003.2 L438.55,1003.98 L439.4,1005.5 L440.55,1005.43 L441.7,1006.6 L442.55,1009.12 L443.4,1011.1 L445,1003.2 L446.15,998.22 L447.3,993 L448.15,979.18 L449,966 L449.9,967.05 L450.8,968 L452.4,981.8 L453.5,971.05 L454.6,960 L455.45,951.4 L456.3,943.4 L457.15,951.99 L458,960.3 L458.85,961.11 L459.7,962.6 L460.55,954.65 L461.4,947 L462.55,952.12 L463.7,958 L464.8,956.23 L465.9,955 L466.75,954.43 L467.6,953 L468.75,953.91 L469.9,955 L470.75,950.94 L471.6,946 L472.8,940 L474.05,929.69 L475.3,919.5 L476.4,925.85 L477.5,932 L478.65,933.34 L479.8,934 L480.75,932.17 L481.7,930 L482.95,945.25 L484.2,961.2 L485.15,960.18 L486.1,959 L487.35,958.12 L488.6,957 L490,955 L491.3,877 L491.9,851 L492.5,851 L493.2,915 L494.7,970 L495.7,982.2 L496.63,975.18 L497.57,968.37 L498.5,962 L500,960 L501.2,962.89 L502.4,965.1 L504,962 L505.1,965.46 L506.2,968.9 L507.15,964.17 L508.1,960 L509.03,959.29 L509.97,958.41 L510.9,958 L511.9,957.27 L512.9,956 L513.85,959 L514.8,962 L515.75,959.64 L516.7,958 L517.65,963.29 L518.6,968 L519.55,962.13 L520.5,957 L521.45,971.3 L522.4,986 L523.55,999.93 L524.7,1014.7 L525.95,1004.57 L527.2,994 L528.15,990.65 L529.1,988 L530.25,990.52 L531.4,993 L532.35,987.13 L533.3,982 L534.25,984.98 L535.2,988 L536.15,994.67 L537.1,1001 L538.35,977.33 L539.6,953.6 L540.53,956.09 L541.47,958.65 L542.4,961.2 L543.7,949.69 L545,938.3 L545.97,929.49 L546.93,920.14 L547.9,911.6 L548.83,907.14 L549.77,902.5 L550.7,898.3 L551.85,897.18 L553,895.4 L554.25,899.15 L555.5,902.1 L556.47,905.51 L557.43,909.38 L558.4,913.5 L559.9,920.2 L560.85,914.28 L561.8,908 L562.95,900.81 L564.1,893.5 L565.3,892.32 L566.5,892 L568,896 L569.1,898.28 L570.2,900.2 L571.45,897.25 L572.7,893.5 L573.6,899.18 L574.5,905 L575.5,919.86 L576.5,935 L577.45,946.56 L578.4,958 L579.65,964.9 L580.9,971 L581.75,975.44 L582.6,980.3 L584.1,967 L585.7,965.1 L586.55,968.72 L587.4,972.7 L588.35,965.72 L589.3,959.3 L590.55,948.92 L591.8,938.3 L592.75,917.32 L593.7,896.4 L594.65,872.28 L595.6,848.6 L596.55,838.5 L597.5,828.6 L598.45,836.28 L599.4,844.8 L600.35,860.88 L601.3,877.3 L602.25,902.53 L603.2,926.9 L604.15,947.98 L605.1,968.9 L606.05,982.05 L607,995.6 L607.97,999.46 L608.93,1002.41 L609.9,1006 L610.85,1004.15 L611.8,1003.2 L612.75,1001.26 L613.7,1001 L614.85,999.36 L616,999 L617.25,994.96 L618.5,992 L619.75,984.51 L621,978 L622.05,977.17 L623.1,975 L624.07,973.58 L625.03,972.55 L626,972 L627.2,971.19 L628.4,970 L629.25,971.75 L630.1,972 L631.35,971.02 L632.6,970.8 L633.8,964.87 L635,958 L636.1,955.76 L637.2,954 L638.25,952.11 L639.3,950 L640.15,947.67 L641,945 L642,940.8 L643,935 L644,920.46 L645,905 L645.9,883.46 L646.8,861.9 L648.05,871.26 L649.3,880 L650.15,889.88 L651,900 L652.25,912.4 L653.5,925 L654.55,937.91 L655.6,950 L656.65,961.04 L657.7,972 L658.6,981.71 L659.5,990 L660.75,994.52 L662,1000 L663,1003.23 L664,1004.3 L665,1004.83 L666,1004.11 L667,1005 L668,1006.46 L669,1005.59 L670,1006 L671.25,1006.08 L672.5,1007 L673.5,1006.88 L674.5,1006.97 L675.5,1008.5" fill="none" stroke="#000" stroke-width="1.85" stroke-linejoin="round" stroke-linecap="round"/>
<path d="M394.3,977.2 L395.15,970.53 L396,963.7 L397.4,978.4 L399,969.3 L400.5,967.1 L401.35,988.77 L402.2,1010 L403.05,1001.29 L403.9,990.8 L404.85,978.59 L405.8,964.3 L407.2,985.1 L408.4,1010 L409.25,1001.39 L410.1,990.8 L410.95,980.85 L411.8,971.6 L413.2,1005.5 L414.6,993 L415.7,1005.5 L416.8,989.7 L417.65,998.77 L418.5,1005.5 L420,989.7 L421.3,987.4 L422.7,977.2 L424.2,984 L425.6,971.6 L427.2,986.3 L428.7,971.6 L429.55,975.35 L430.4,979.5 L431.25,975.05 L432.1,971.6 L432.95,974.5 L433.8,979.5 L434.65,985.18 L435.5,990.8 L437.1,1007.7 L437.95,1006.25 L438.8,1006.6 L439.65,1002.61 L440.5,999.8 L441.35,1004.04 L442.2,1007.7 L443.7,999.8 L444.65,1000.05 L445.6,999.8 L446.45,995.53 L447.3,990.8 L448.4,966 L449.6,961.4 L450.45,963.88 L451.3,967.1 L452.9,973.9 L453.75,965.61 L454.6,958.1 L455.8,942.3 L456.65,947.13 L457.5,952.4 L458.5,955.3 L459.5,958.1 L460.45,952.75 L461.4,946.8 L462.55,954.37 L463.7,961.4 L464.8,958.44 L465.9,954.7 L466.75,953.08 L467.6,951.3 L468.75,953.12 L469.9,954.7 L470.75,949.41 L471.6,944.5 L472.8,938.3 L474.05,929.58 L475.3,921.2 L476.4,927.59 L477.5,934.5 L478.65,935.48 L479.8,936.4 L480.75,933.65 L481.7,930.7 L482.95,943.17 L484.2,955.5 L485.15,956.35 L486.1,957.4 L487.35,955.43 L488.6,953.6 L490,951.7 L491.3,877.3 L491.9,851 L492.5,851 L493.2,915.4 L494.7,965.1 L495.65,971.52 L496.6,978.4 L497.55,972.03 L498.5,965.1 L499.47,960.07 L500.43,955.12 L501.4,949.8 L502.35,957.73 L503.3,965.1 L504.55,963.95 L505.8,963.2 L506.95,959.96 L508.1,957.4 L509.03,956.57 L509.97,956.5 L510.9,955.5 L511.9,954.81 L512.9,953.6 L513.85,957.31 L514.8,961.2 L515.75,959.55 L516.7,957.4 L517.65,963.96 L518.6,970.8 L519.55,964.43 L520.5,957.4 L521.45,971.38 L522.4,986.1 L523.55,1000.62 L524.7,1014.7 L525.95,1005.58 L527.2,995.6 L528.15,992.68 L529.1,989.9 L530.25,992.72 L531.4,995.6 L532.35,987.62 L533.3,980.3 L534.25,983 L535.2,986.1 L536.15,994.41 L537.1,1003.2 L538.05,985.87 L539,968.9 L540.5,947.9 L541.65,948.46 L542.8,949.8 L543.75,940.07 L544.7,930.7 L546,915.09 L547.3,900.2 L548.55,890.67 L549.8,881.1 L551.05,878.17 L552.3,875.4 L553.25,875.6 L554.2,876.3 L555.15,884.8 L556.1,892.5 L557.25,901.88 L558.4,911.6 L559.9,915.4 L560.85,909.73 L561.8,904 L562.75,899.56 L563.7,894.4 L564.85,893.23 L566,891.6 L566.95,892.97 L567.9,893.5 L568.85,891.2 L569.8,888.7 L571.3,881.1 L572.7,885.9 L574,900.2 L574.95,915.78 L575.9,930.7 L577.15,943.66 L578.4,957.4 L579.65,964.31 L580.9,970.8 L581.75,975.4 L582.6,980.3 L584.1,967 L585.7,965.1 L586.55,968.74 L587.4,972.7 L588.35,966.24 L589.3,959.3 L590.55,949.02 L591.8,938.3 L592.75,917.21 L593.7,896.4 L594.65,872.38 L595.6,848.6 L596.55,838.4 L597.5,828.6 L598.45,837.09 L599.4,844.8 L600.35,861.15 L601.3,877.3 L602.25,901.88 L603.2,926.9 L604.15,947.93 L605.1,968.9 L606.05,981.85 L607,995.6 L607.97,999.86 L608.93,1004.53 L609.9,1009 L610.85,1006.95 L611.8,1003.2 L612.75,1001.49 L613.7,998.5 L614.85,997.64 L616,996.6 L617.25,993.72 L618.5,989.9 L619.75,982.75 L621,976.5 L622.3,968.9 L623.25,970.2 L624.2,970.8 L625.25,976.94 L626.3,981.3 L627.35,972.28 L628.4,964.5 L629.25,970.53 L630.1,975 L631.5,962.4 L632.55,969.57 L633.6,975 L634.65,958.01 L635.7,941.5 L637.2,954 L638.25,949.37 L639.3,943.6 L640.9,975 L641.95,959.13 L643,941.5 L644.05,922.02 L645.1,903.8 L646.15,886.47 L647.2,869.2 L648.25,876.08 L649.3,882.8 L650.35,891.46 L651.4,899.6 L652.45,912.99 L653.5,926.8 L654.55,938.53 L655.6,949.8 L656.65,960.48 L657.7,970.8 L658.55,983.23 L659.4,993.8 L660.8,1002.2 L661.85,997.56 L662.9,991.7 L664.4,1016.9 L665.25,1009.44 L666.1,1000.1 L667.7,1012.7 L668.55,1007.72 L669.4,1002.2 L670.25,1010.71 L671.1,1019 L671.95,1005.25 L672.8,991.7 L673.65,1006.16 L674.5,1021.1 L676.1,998" fill="none" stroke="#0000ff" stroke-width="1.85" stroke-linejoin="round" stroke-linecap="round"/>
<rect x="72.6" y="551.3" width="119" height="43.7" fill="#000"/>
<rect x="69.4" y="547.6" width="119" height="43.7" fill="#fff" stroke="#8a8a8a" stroke-width="0.8"/>
<line x1="71.6" y1="559.1" x2="108.4" y2="559.1" stroke="#000" stroke-width="1.35"/>
<line x1="71.6" y1="579.8" x2="108.4" y2="579.8" stroke="#ff0000" stroke-width="1.35"/>
<text x="114" y="565.1" font-size="15.5" fill="#000" textLength="72" lengthAdjust="spacingAndGlyphs">NT6w_LA</text>
<text x="114" y="585.8" font-size="15.5" fill="#000" textLength="72" lengthAdjust="spacingAndGlyphs">HT6w_LA</text>
<rect x="407.7" y="551.7" width="120.4" height="42.7" fill="#000"/>
<rect x="404.6" y="548.1" width="120.4" height="42.7" fill="#fff" stroke="#8a8a8a" stroke-width="0.8"/>
<line x1="407.1" y1="559.8" x2="443.4" y2="559.8" stroke="#000" stroke-width="1.35"/>
<line x1="407.1" y1="580.1" x2="443.4" y2="580.1" stroke="#ff8000" stroke-width="1.35"/>
<text x="448.9" y="565.7" font-size="15.5" fill="#000" textLength="76" lengthAdjust="spacingAndGlyphs">NT6w_RA</text>
<text x="448.9" y="586" font-size="15.5" fill="#000" textLength="76" lengthAdjust="spacingAndGlyphs">HT6w_RA</text>
<rect x="74.6" y="810" width="120.9" height="43.5" fill="#000"/>
<rect x="71.6" y="806.4" width="120.9" height="43.5" fill="#fff" stroke="#8a8a8a" stroke-width="0.8"/>
<line x1="73.8" y1="817.4" x2="110.6" y2="817.4" stroke="#000" stroke-width="1.35"/>
<line x1="73.8" y1="838.6" x2="110.6" y2="838.6" stroke="#00f000" stroke-width="1.35"/>
<text x="116.1" y="823.3" font-size="15.5" fill="#000" textLength="73" lengthAdjust="spacingAndGlyphs">NT6w_LV</text>
<text x="116.1" y="844.5" font-size="15.5" fill="#000" textLength="73" lengthAdjust="spacingAndGlyphs">HT6w_LV</text>
<rect x="407.3" y="808.5" width="124" height="42.7" fill="#000"/>
<rect x="404.1" y="804.7" width="124" height="42.7" fill="#fff" stroke="#8a8a8a" stroke-width="0.8"/>
<line x1="406.6" y1="816.1" x2="443" y2="816.1" stroke="#000" stroke-width="1.35"/>
<line x1="406.6" y1="836" x2="443" y2="836" stroke="#0000ff" stroke-width="1.35"/>
<text x="448.6" y="822" font-size="15.5" fill="#000" textLength="76" lengthAdjust="spacingAndGlyphs">NT6w_RV</text>
<text x="448.6" y="842" font-size="15.5" fill="#000" textLength="76" lengthAdjust="spacingAndGlyphs">HT6w_RV</text>
<line x1="553" y1="952.5" x2="553" y2="915.9" stroke="#ff1010" stroke-width="1.4"/>
<path d="M553,910.9 L551,916.9 L555,916.9 Z" fill="#ff1010"/>
<line x1="570" y1="962.8" x2="570" y2="926.5" stroke="#ff1010" stroke-width="1.4"/>
<path d="M570,921.5 L568,927.5 L572,927.5 Z" fill="#ff1010"/>
<line x1="618.9" y1="903.5" x2="637" y2="903.5" stroke="#ff1010" stroke-width="1.4"/>
<path d="M642.6,903.5 L636.2,901.4 L636.2,905.6 Z" fill="#ff1010"/>
<text x="81" y="51.3" font-size="30" fill="#111" textLength="33.2" lengthAdjust="spacingAndGlyphs" stroke="#111" stroke-width="0.55">(a)</text>
<text x="628.8" y="581.3" font-size="34.6" fill="#111" textLength="40" lengthAdjust="spacingAndGlyphs" stroke="#111" stroke-width="0.5">(b)</text>
<rect x="0" y="530.3" width="704" height="3.4" fill="#000"/>
</svg>
</body></html>
